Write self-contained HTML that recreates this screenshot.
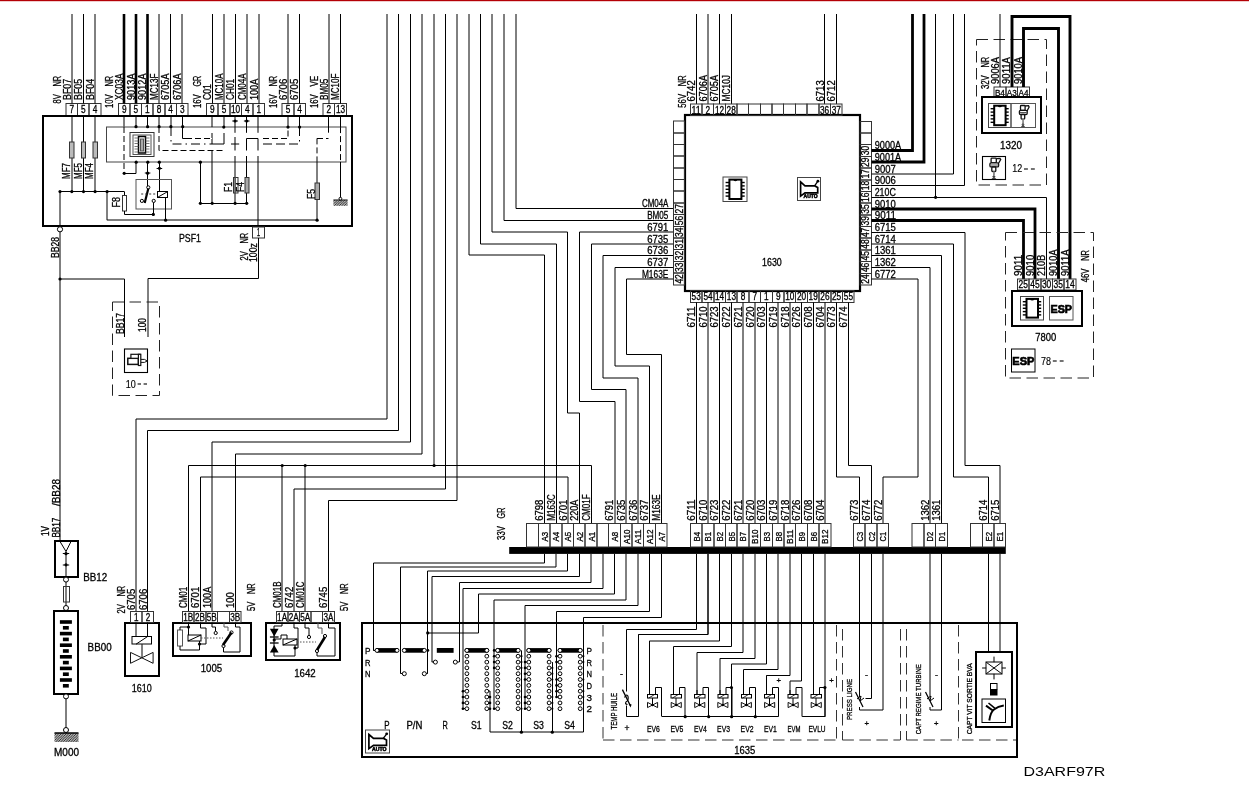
<!DOCTYPE html>
<html><head><meta charset="utf-8"><style>
html,body{margin:0;padding:0;background:#fff;overflow:hidden;width:1249px;height:810px;}
svg{display:block;will-change:transform;}
text{font-family:"Liberation Sans",sans-serif;fill:#000;stroke:#000;stroke-width:0.3px;}
</style></head><body>
<svg width="1249" height="810" viewBox="0 0 1249 810">
<defs><pattern id="hatch" width="2.5" height="2.5" patternUnits="userSpaceOnUse"><path d="M-0.5,0.5 L0.5,-0.5 M0,2.5 L2.5,0 M2,3 L3,2" stroke="#111" stroke-width="1"/></pattern></defs>
<rect width="1249" height="810" fill="#fff"/>
<rect x="0.0" y="0.0" width="1249.0" height="1.2" fill="#b40006"/>
<rect x="66.0" y="103.5" width="11.5" height="12.0" fill="none" stroke="#333" stroke-width="1"/>
<text x="69.5" y="113.2" font-size="10" textLength="4.6" lengthAdjust="spacingAndGlyphs">7</text>
<line x1="72.0" y1="14.0" x2="72.0" y2="103.5" stroke="#000" stroke-width="1"/>
<text transform="translate(70.5,100.0) rotate(-90)" font-size="10.5" textLength="21.2" lengthAdjust="spacingAndGlyphs">BF07</text>
<rect x="77.5" y="103.5" width="11.5" height="12.0" fill="none" stroke="#333" stroke-width="1"/>
<text x="81.1" y="113.2" font-size="10" textLength="4.6" lengthAdjust="spacingAndGlyphs">5</text>
<line x1="83.5" y1="14.0" x2="83.5" y2="103.5" stroke="#000" stroke-width="1"/>
<text transform="translate(82.1,100.0) rotate(-90)" font-size="10.5" textLength="21.2" lengthAdjust="spacingAndGlyphs">BF05</text>
<rect x="89.0" y="103.5" width="12.0" height="12.0" fill="none" stroke="#333" stroke-width="1"/>
<text x="92.7" y="113.2" font-size="10" textLength="4.6" lengthAdjust="spacingAndGlyphs">4</text>
<line x1="95.0" y1="14.0" x2="95.0" y2="103.5" stroke="#000" stroke-width="1"/>
<text transform="translate(93.7,100.0) rotate(-90)" font-size="10.5" textLength="21.2" lengthAdjust="spacingAndGlyphs">BF04</text>
<text transform="translate(60.8,86.6) rotate(-90)" font-size="10.5" textLength="10.8" lengthAdjust="spacingAndGlyphs">NR</text>
<text transform="translate(60.8,103.5) rotate(-90)" font-size="10.5" textLength="9.2" lengthAdjust="spacingAndGlyphs">8V</text>
<rect x="118.5" y="103.5" width="11.5" height="12.0" fill="none" stroke="#333" stroke-width="1"/>
<text x="121.9" y="113.2" font-size="10" textLength="4.6" lengthAdjust="spacingAndGlyphs">9</text>
<line x1="124.0" y1="14.0" x2="124.0" y2="103.5" stroke="#000" stroke-width="2.6"/>
<text transform="translate(122.9,100.0) rotate(-90)" font-size="10.5" textLength="26.5" lengthAdjust="spacingAndGlyphs">XC03A</text>
<rect x="130.0" y="103.5" width="11.5" height="12.0" fill="none" stroke="#333" stroke-width="1"/>
<text x="133.5" y="113.2" font-size="10" textLength="4.6" lengthAdjust="spacingAndGlyphs">5</text>
<line x1="136.0" y1="14.0" x2="136.0" y2="103.5" stroke="#000" stroke-width="2.6"/>
<text transform="translate(134.5,100.0) rotate(-90)" font-size="10.5" textLength="26.5" lengthAdjust="spacingAndGlyphs">9013A</text>
<rect x="141.5" y="103.5" width="11.5" height="12.0" fill="none" stroke="#333" stroke-width="1"/>
<text x="145.1" y="113.2" font-size="10" textLength="4.6" lengthAdjust="spacingAndGlyphs">1</text>
<line x1="147.5" y1="14.0" x2="147.5" y2="103.5" stroke="#000" stroke-width="2.6"/>
<text transform="translate(146.1,100.0) rotate(-90)" font-size="10.5" textLength="26.5" lengthAdjust="spacingAndGlyphs">9012A</text>
<rect x="153.0" y="103.5" width="12.0" height="12.0" fill="none" stroke="#333" stroke-width="1"/>
<text x="156.7" y="113.2" font-size="10" textLength="4.6" lengthAdjust="spacingAndGlyphs">8</text>
<line x1="159.0" y1="14.0" x2="159.0" y2="103.5" stroke="#000" stroke-width="1"/>
<text transform="translate(157.7,100.0) rotate(-90)" font-size="10.5" textLength="26.5" lengthAdjust="spacingAndGlyphs">MC13F</text>
<rect x="165.0" y="103.5" width="11.5" height="12.0" fill="none" stroke="#333" stroke-width="1"/>
<text x="168.3" y="113.2" font-size="10" textLength="4.6" lengthAdjust="spacingAndGlyphs">4</text>
<line x1="170.5" y1="14.0" x2="170.5" y2="103.5" stroke="#000" stroke-width="1"/>
<text transform="translate(169.3,100.0) rotate(-90)" font-size="10.5" textLength="26.5" lengthAdjust="spacingAndGlyphs">6705A</text>
<rect x="176.5" y="103.5" width="11.5" height="12.0" fill="none" stroke="#333" stroke-width="1"/>
<text x="179.9" y="113.2" font-size="10" textLength="4.6" lengthAdjust="spacingAndGlyphs">3</text>
<line x1="182.0" y1="14.0" x2="182.0" y2="103.5" stroke="#000" stroke-width="1"/>
<text transform="translate(180.9,100.0) rotate(-90)" font-size="10.5" textLength="26.5" lengthAdjust="spacingAndGlyphs">6706A</text>
<text transform="translate(113.2,86.6) rotate(-90)" font-size="10.5" textLength="10.8" lengthAdjust="spacingAndGlyphs">NR</text>
<text transform="translate(113.2,108.1) rotate(-90)" font-size="10.5" textLength="13.8" lengthAdjust="spacingAndGlyphs">10V</text>
<rect x="206.5" y="103.5" width="11.5" height="12.0" fill="none" stroke="#333" stroke-width="1"/>
<text x="210.1" y="113.2" font-size="10" textLength="4.6" lengthAdjust="spacingAndGlyphs">9</text>
<line x1="212.5" y1="14.0" x2="212.5" y2="103.5" stroke="#000" stroke-width="1"/>
<text transform="translate(211.1,100.0) rotate(-90)" font-size="10.5" textLength="15.9" lengthAdjust="spacingAndGlyphs">C01</text>
<rect x="218.0" y="103.5" width="12.0" height="12.0" fill="none" stroke="#333" stroke-width="1"/>
<text x="221.7" y="113.2" font-size="10" textLength="4.6" lengthAdjust="spacingAndGlyphs">5</text>
<line x1="224.0" y1="14.0" x2="224.0" y2="103.5" stroke="#000" stroke-width="1"/>
<text transform="translate(222.7,100.0) rotate(-90)" font-size="10.5" textLength="26.5" lengthAdjust="spacingAndGlyphs">MC10A</text>
<rect x="230.0" y="103.5" width="11.5" height="12.0" fill="none" stroke="#333" stroke-width="1"/>
<text x="231.0" y="113.2" font-size="10" textLength="9.2" lengthAdjust="spacingAndGlyphs">10</text>
<line x1="235.5" y1="14.0" x2="235.5" y2="103.5" stroke="#000" stroke-width="1"/>
<text transform="translate(234.3,100.0) rotate(-90)" font-size="10.5" textLength="21.2" lengthAdjust="spacingAndGlyphs">CH01</text>
<rect x="241.5" y="103.5" width="11.5" height="12.0" fill="none" stroke="#333" stroke-width="1"/>
<text x="244.9" y="113.2" font-size="10" textLength="4.6" lengthAdjust="spacingAndGlyphs">4</text>
<line x1="247.0" y1="14.0" x2="247.0" y2="103.5" stroke="#000" stroke-width="1"/>
<text transform="translate(245.9,100.0) rotate(-90)" font-size="10.5" textLength="26.5" lengthAdjust="spacingAndGlyphs">CM04A</text>
<rect x="253.0" y="103.5" width="11.5" height="12.0" fill="none" stroke="#333" stroke-width="1"/>
<text x="256.5" y="113.2" font-size="10" textLength="4.6" lengthAdjust="spacingAndGlyphs">1</text>
<line x1="259.0" y1="14.0" x2="259.0" y2="103.5" stroke="#000" stroke-width="1"/>
<text transform="translate(257.5,100.0) rotate(-90)" font-size="10.5" textLength="21.2" lengthAdjust="spacingAndGlyphs">100A</text>
<text transform="translate(201.4,86.6) rotate(-90)" font-size="10.5" textLength="10.8" lengthAdjust="spacingAndGlyphs">GR</text>
<text transform="translate(201.4,108.1) rotate(-90)" font-size="10.5" textLength="13.8" lengthAdjust="spacingAndGlyphs">16V</text>
<rect x="282.0" y="103.5" width="12.0" height="12.0" fill="none" stroke="#333" stroke-width="1"/>
<text x="285.7" y="113.2" font-size="10" textLength="4.6" lengthAdjust="spacingAndGlyphs">5</text>
<line x1="288.0" y1="14.0" x2="288.0" y2="103.5" stroke="#000" stroke-width="1"/>
<text transform="translate(286.7,100.0) rotate(-90)" font-size="10.5" textLength="21.2" lengthAdjust="spacingAndGlyphs">6706</text>
<rect x="294.0" y="103.5" width="11.5" height="12.0" fill="none" stroke="#333" stroke-width="1"/>
<text x="297.3" y="113.2" font-size="10" textLength="4.6" lengthAdjust="spacingAndGlyphs">4</text>
<line x1="299.5" y1="14.0" x2="299.5" y2="103.5" stroke="#000" stroke-width="1"/>
<text transform="translate(298.3,100.0) rotate(-90)" font-size="10.5" textLength="21.2" lengthAdjust="spacingAndGlyphs">6705</text>
<text transform="translate(277.0,86.6) rotate(-90)" font-size="10.5" textLength="10.8" lengthAdjust="spacingAndGlyphs">NR</text>
<text transform="translate(277.0,108.1) rotate(-90)" font-size="10.5" textLength="13.8" lengthAdjust="spacingAndGlyphs">16V</text>
<rect x="323.0" y="103.5" width="11.5" height="12.0" fill="none" stroke="#333" stroke-width="1"/>
<text x="326.6" y="113.2" font-size="10" textLength="4.6" lengthAdjust="spacingAndGlyphs">2</text>
<line x1="329.0" y1="14.0" x2="329.0" y2="103.5" stroke="#000" stroke-width="1"/>
<text transform="translate(327.6,100.0) rotate(-90)" font-size="10.5" textLength="21.2" lengthAdjust="spacingAndGlyphs">BM05</text>
<rect x="334.5" y="103.5" width="12.0" height="12.0" fill="none" stroke="#333" stroke-width="1"/>
<text x="335.9" y="113.2" font-size="10" textLength="9.2" lengthAdjust="spacingAndGlyphs">13</text>
<line x1="340.5" y1="14.0" x2="340.5" y2="103.5" stroke="#000" stroke-width="1"/>
<text transform="translate(339.2,100.0) rotate(-90)" font-size="10.5" textLength="26.5" lengthAdjust="spacingAndGlyphs">MC10F</text>
<text transform="translate(317.9,86.6) rotate(-90)" font-size="10.5" textLength="10.8" lengthAdjust="spacingAndGlyphs">VE</text>
<text transform="translate(317.9,108.1) rotate(-90)" font-size="10.5" textLength="13.8" lengthAdjust="spacingAndGlyphs">16V</text>
<rect x="43.0" y="116.0" width="309.0" height="110.0" fill="none" stroke="#000" stroke-width="2"/>
<rect x="106.5" y="127.0" width="239.5" height="35.0" fill="none" stroke="#444" stroke-width="1"/>
<line x1="72.0" y1="115.6" x2="72.0" y2="191.6" stroke="#000" stroke-width="1"/>
<rect x="69.5" y="142.0" width="4.5" height="16.0" fill="#bbb" stroke="#333" stroke-width="1"/>
<text transform="translate(70.0,179.0) rotate(-90)" font-size="10.5" textLength="16.0" lengthAdjust="spacingAndGlyphs">MF7</text>
<circle cx="71.8" cy="191.6" r="1.6" fill="#000"/>
<line x1="83.5" y1="115.6" x2="83.5" y2="191.6" stroke="#000" stroke-width="1"/>
<rect x="81.5" y="142.0" width="4.0" height="16.0" fill="#bbb" stroke="#333" stroke-width="1"/>
<text transform="translate(81.7,179.0) rotate(-90)" font-size="10.5" textLength="16.0" lengthAdjust="spacingAndGlyphs">MF5</text>
<circle cx="83.5" cy="191.6" r="1.6" fill="#000"/>
<line x1="95.0" y1="115.6" x2="95.0" y2="191.6" stroke="#000" stroke-width="1"/>
<rect x="93.0" y="142.0" width="4.5" height="16.0" fill="#bbb" stroke="#333" stroke-width="1"/>
<text transform="translate(93.3,179.0) rotate(-90)" font-size="10.5" textLength="16.0" lengthAdjust="spacingAndGlyphs">MF4</text>
<circle cx="95.1" cy="191.6" r="1.6" fill="#000"/>
<line x1="60.0" y1="191.5" x2="124.4" y2="191.5" stroke="#000" stroke-width="1"/>
<circle cx="107.1" cy="191.6" r="1.6" fill="#000"/>
<line x1="107.0" y1="191.6" x2="107.0" y2="220.2" stroke="#000" stroke-width="1"/>
<line x1="107.1" y1="220.0" x2="317.6" y2="220.0" stroke="#000" stroke-width="1"/>
<line x1="124.5" y1="191.6" x2="124.5" y2="195.6" stroke="#000" stroke-width="1"/>
<rect x="122.5" y="195.5" width="4.0" height="15.5" fill="none" stroke="#333" stroke-width="1"/>
<polyline points="124.5,211.0 124.5,214.5 153.5,214.5 153.5,205.0" fill="none" stroke="#000" stroke-width="1"/>
<circle cx="153.3" cy="214.4" r="1.6" fill="#000"/>
<text transform="translate(119.5,207.5) rotate(-90)" font-size="10.5" textLength="10.5" lengthAdjust="spacingAndGlyphs">F8</text>
<line x1="124.0" y1="115.6" x2="124.0" y2="126.7" stroke="#000" stroke-width="1"/>
<polyline points="124.0,173.5 136.0,173.5 136.0,162.0" fill="none" stroke="#000" stroke-width="1"/>
<circle cx="124.2" cy="173.3" r="1.6" fill="#000"/>
<line x1="136.0" y1="115.6" x2="136.0" y2="126.7" stroke="#000" stroke-width="1"/>
<circle cx="136.0" cy="126.7" r="1.6" fill="#000"/>
<line x1="147.5" y1="115.6" x2="147.5" y2="126.7" stroke="#000" stroke-width="1"/>
<circle cx="147.6" cy="126.7" r="1.6" fill="#000"/>
<line x1="159.0" y1="115.6" x2="159.0" y2="126.7" stroke="#000" stroke-width="1"/>
<circle cx="159.1" cy="126.7" r="1.6" fill="#000"/>
<line x1="171.0" y1="115.6" x2="171.0" y2="126.7" stroke="#000" stroke-width="1"/>
<circle cx="170.9" cy="126.7" r="1.6" fill="#000"/>
<line x1="182.5" y1="115.6" x2="182.5" y2="126.7" stroke="#000" stroke-width="1"/>
<circle cx="182.7" cy="126.7" r="1.6" fill="#000"/>
<rect x="130.0" y="132.5" width="24.0" height="24.0" fill="none" stroke="#333" stroke-width="1"/>
<rect x="133.0" y="135.0" width="18.0" height="19.5" fill="none" stroke="#555" stroke-width="1"/>
<rect x="138.5" y="136.5" width="7.0" height="16.5" fill="none" stroke="#000" stroke-width="1.5"/>
<rect x="140.5" y="139.0" width="3.0" height="12.0" fill="#aaa" stroke="#555" stroke-width="1"/>
<line x1="134.5" y1="138.0" x2="138.5" y2="138.0" stroke="#555" stroke-width="0.8"/>
<line x1="145.5" y1="138.0" x2="149.5" y2="138.0" stroke="#555" stroke-width="0.8"/>
<line x1="134.5" y1="141.0" x2="138.5" y2="141.0" stroke="#555" stroke-width="0.8"/>
<line x1="145.5" y1="141.0" x2="149.5" y2="141.0" stroke="#555" stroke-width="0.8"/>
<line x1="134.5" y1="143.5" x2="138.5" y2="143.5" stroke="#555" stroke-width="0.8"/>
<line x1="145.5" y1="143.5" x2="149.5" y2="143.5" stroke="#555" stroke-width="0.8"/>
<line x1="134.5" y1="146.5" x2="138.5" y2="146.5" stroke="#555" stroke-width="0.8"/>
<line x1="145.5" y1="146.5" x2="149.5" y2="146.5" stroke="#555" stroke-width="0.8"/>
<line x1="134.5" y1="149.0" x2="138.5" y2="149.0" stroke="#555" stroke-width="0.8"/>
<line x1="145.5" y1="149.0" x2="149.5" y2="149.0" stroke="#555" stroke-width="0.8"/>
<line x1="134.5" y1="152.0" x2="138.5" y2="152.0" stroke="#555" stroke-width="0.8"/>
<line x1="145.5" y1="152.0" x2="149.5" y2="152.0" stroke="#555" stroke-width="0.8"/>
<circle cx="136.2" cy="162.2" r="1.6" fill="#000"/>
<circle cx="147.8" cy="162.2" r="1.6" fill="#000"/>
<circle cx="159.3" cy="162.2" r="1.6" fill="#000"/>
<circle cx="200.4" cy="162.2" r="1.6" fill="#000"/>
<line x1="147.5" y1="162.2" x2="147.5" y2="187.4" stroke="#000" stroke-width="1"/>
<circle cx="147.6" cy="173.2" r="1.6" fill="#000"/>
<line x1="144.8" y1="173.0" x2="150.4" y2="173.0" stroke="#000" stroke-width="1"/>
<line x1="159.5" y1="162.2" x2="159.5" y2="191.7" stroke="#000" stroke-width="1"/>
<line x1="156.6" y1="168.5" x2="162.2" y2="168.5" stroke="#000" stroke-width="1"/>
<circle cx="159.4" cy="168.3" r="1.6" fill="#000"/>
<rect x="136.0" y="179.5" width="35.5" height="29.5" fill="none" stroke="#555" stroke-width="1"/>
<circle cx="148.3" cy="187.4" r="1.6" fill="#fff" stroke="#000" stroke-width="1"/>
<circle cx="141.9" cy="200.9" r="1.6" fill="#fff" stroke="#000" stroke-width="1"/>
<circle cx="153.7" cy="200.9" r="1.6" fill="#fff" stroke="#000" stroke-width="1"/>
<line x1="144.7" y1="203.1" x2="148.3" y2="188.5" stroke="#000" stroke-width="2.2"/>
<line x1="141.2" y1="194.0" x2="157.0" y2="194.0" stroke="#333" stroke-width="1" stroke-dasharray="2,2"/>
<rect x="157.5" y="191.5" width="10.0" height="6.0" fill="none" stroke="#000" stroke-width="1"/>
<line x1="157.5" y1="197.4" x2="167.5" y2="191.7" stroke="#000" stroke-width="1"/>
<line x1="165.5" y1="197.4" x2="165.5" y2="220.2" stroke="#000" stroke-width="1"/>
<circle cx="165.6" cy="220.2" r="1.6" fill="#000"/>
<line x1="153.5" y1="202.5" x2="153.5" y2="214.4" stroke="#000" stroke-width="1"/>
<line x1="212.0" y1="115.6" x2="212.0" y2="127.1" stroke="#000" stroke-width="1"/>
<line x1="212.0" y1="150.5" x2="212.0" y2="203.3" stroke="#000" stroke-width="1"/>
<circle cx="212.2" cy="203.3" r="1.6" fill="#000"/>
<line x1="200.5" y1="162.2" x2="200.5" y2="203.3" stroke="#000" stroke-width="1"/>
<circle cx="200.4" cy="203.3" r="1.6" fill="#000"/>
<line x1="200.4" y1="203.5" x2="246.7" y2="203.5" stroke="#000" stroke-width="1"/>
<line x1="224.0" y1="115.6" x2="224.0" y2="127.1" stroke="#000" stroke-width="1"/>
<circle cx="223.8" cy="127.1" r="1.6" fill="#000"/>
<line x1="235.0" y1="115.6" x2="235.0" y2="132.8" stroke="#000" stroke-width="1"/>
<line x1="235.0" y1="156.0" x2="235.0" y2="203.3" stroke="#000" stroke-width="1"/>
<circle cx="235.1" cy="203.3" r="1.6" fill="#000"/>
<line x1="232.3" y1="121.0" x2="237.9" y2="121.0" stroke="#000" stroke-width="1"/>
<circle cx="235.1" cy="121.0" r="1.6" fill="#000"/>
<line x1="246.5" y1="115.6" x2="246.5" y2="132.8" stroke="#000" stroke-width="1"/>
<line x1="246.5" y1="156.0" x2="246.5" y2="203.3" stroke="#000" stroke-width="1"/>
<circle cx="246.7" cy="203.3" r="1.6" fill="#000"/>
<line x1="243.9" y1="121.0" x2="249.5" y2="121.0" stroke="#000" stroke-width="1"/>
<circle cx="246.7" cy="121.0" r="1.6" fill="#000"/>
<line x1="235.0" y1="137.0" x2="235.0" y2="150.5" stroke="#000" stroke-width="1"/>
<line x1="231.0" y1="144.0" x2="239.2" y2="144.0" stroke="#000" stroke-width="1"/>
<polyline points="246.5,150.5 246.5,138.5 258.0,138.5 258.0,150.5" fill="none" stroke="#000" stroke-width="1"/>
<polyline points="212.0,133.0 212.0,144.0 224.0,144.0 224.0,133.0" fill="none" stroke="#000" stroke-width="1"/>
<rect x="233.5" y="177.5" width="4.5" height="15.5" fill="none" stroke="#333" stroke-width="1"/>
<line x1="235.5" y1="177.5" x2="235.5" y2="193.1" stroke="#555" stroke-width="0.8"/>
<rect x="245.0" y="177.5" width="4.0" height="15.5" fill="#aaa" stroke="#333" stroke-width="1"/>
<text transform="translate(232.4,192.0) rotate(-90)" font-size="10.5" textLength="10.0" lengthAdjust="spacingAndGlyphs">F1</text>
<text transform="translate(244.4,192.0) rotate(-90)" font-size="10.5" textLength="10.0" lengthAdjust="spacingAndGlyphs">F4</text>
<line x1="258.0" y1="115.6" x2="258.0" y2="132.8" stroke="#000" stroke-width="1"/>
<line x1="258.0" y1="156.0" x2="258.0" y2="227.0" stroke="#000" stroke-width="1"/>
<line x1="288.0" y1="115.6" x2="288.0" y2="127.1" stroke="#000" stroke-width="1"/>
<circle cx="288.0" cy="127.1" r="1.6" fill="#000"/>
<line x1="299.5" y1="115.6" x2="299.5" y2="127.1" stroke="#000" stroke-width="1"/>
<circle cx="299.6" cy="127.1" r="1.6" fill="#000"/>
<line x1="328.5" y1="115.6" x2="328.5" y2="132.7" stroke="#000" stroke-width="1"/>
<line x1="340.5" y1="115.6" x2="340.5" y2="127.1" stroke="#000" stroke-width="1"/>
<line x1="340.5" y1="127.1" x2="340.5" y2="161.9" stroke="#000" stroke-width="1" stroke-dasharray="6,3"/>
<line x1="340.5" y1="161.9" x2="340.5" y2="198.7" stroke="#000" stroke-width="1"/>
<rect x="333.4" y="200.2" width="14.2" height="5.6" fill="url(#hatch)"/>
<line x1="333.4" y1="200.0" x2="347.6" y2="200.0" stroke="#000" stroke-width="1"/>
<circle cx="340.4" cy="198.7" r="1.4" fill="#fff" stroke="#000" stroke-width="1"/>
<line x1="317.0" y1="138.4" x2="317.0" y2="161.9" stroke="#000" stroke-width="1" stroke-dasharray="6,3"/>
<line x1="317.0" y1="161.9" x2="317.0" y2="220.2" stroke="#000" stroke-width="1"/>
<circle cx="317.1" cy="220.2" r="1.6" fill="#000"/>
<rect x="315.0" y="183.0" width="4.5" height="16.5" fill="#aaa" stroke="#333" stroke-width="1"/>
<text transform="translate(314.5,199.0) rotate(-90)" font-size="10.5" textLength="10.0" lengthAdjust="spacingAndGlyphs">F5</text>
<polyline points="124.0,127.0 124.0,173.5" fill="none" stroke="#000" stroke-width="1" stroke-dasharray="6,3"/>
<polyline points="159.0,127.0 159.0,150.5 224.0,150.5" fill="none" stroke="#000" stroke-width="1" stroke-dasharray="6,3"/>
<polyline points="171.0,127.0 171.0,144.0 212.0,144.0" fill="none" stroke="#000" stroke-width="1" stroke-dasharray="9,4,1.5,4"/>
<polyline points="263.0,144.0 299.5,144.0" fill="none" stroke="#000" stroke-width="1" stroke-dasharray="9,4"/>
<polyline points="299.5,127.0 299.5,144.0" fill="none" stroke="#000" stroke-width="1" stroke-dasharray="9,4,1.5,4"/>
<polyline points="182.5,127.0 182.5,138.5 212.0,138.5" fill="none" stroke="#000" stroke-width="1"/>
<line x1="190.0" y1="138.5" x2="212.0" y2="138.5" stroke="#fff" stroke-width="1"/>
<polyline points="186.0,138.5 212.0,138.5" fill="none" stroke="#000" stroke-width="1" stroke-dasharray="6,3"/>
<polyline points="263.0,138.5 288.0,138.5 288.0,127.0" fill="none" stroke="#000" stroke-width="1" stroke-dasharray="6,3"/>
<polyline points="317.0,138.5 328.5,138.5" fill="none" stroke="#000" stroke-width="1" stroke-dasharray="6,3"/>
<rect x="252.5" y="227.0" width="12.0" height="11.0" fill="none" stroke="#333" stroke-width="1"/>
<text x="256.9" y="236.0" font-size="10" textLength="3.0" lengthAdjust="spacingAndGlyphs">1</text>
<text x="179.0" y="242.0" font-size="11" textLength="22.0" lengthAdjust="spacingAndGlyphs">PSF1</text>
<text transform="translate(247.5,243.6) rotate(-90)" font-size="10.5" textLength="10.8" lengthAdjust="spacingAndGlyphs">NR</text>
<text transform="translate(247.5,260.5) rotate(-90)" font-size="10.5" textLength="9.2" lengthAdjust="spacingAndGlyphs">2V</text>
<text transform="translate(256.6,262.0) rotate(-90)" font-size="10.5" textLength="19.0" lengthAdjust="spacingAndGlyphs">100z</text>
<line x1="60.0" y1="191.6" x2="60.0" y2="541.3" stroke="#000" stroke-width="1"/>
<circle cx="60.0" cy="229.3" r="2.6" fill="#fff" stroke="#000" stroke-width="1"/>
<circle cx="60.0" cy="191.6" r="1.6" fill="#000"/>
<text transform="translate(58.6,258.0) rotate(-90)" font-size="10.5" textLength="21.0" lengthAdjust="spacingAndGlyphs">BB28</text>
<circle cx="60.0" cy="279.0" r="1.6" fill="#000"/>
<polyline points="60.0,279.0 124.5,279.0 124.5,337.0" fill="none" stroke="#000" stroke-width="1"/>
<polyline points="258.5,238.0 258.5,278.5 148.0,278.5 148.0,337.0" fill="none" stroke="#000" stroke-width="1"/>
<rect x="112.5" y="302.0" width="47.0" height="93.5" fill="none" stroke="#222" stroke-width="1" stroke-dasharray="11.5,5.5"/>
<text transform="translate(123.5,334.0) rotate(-90)" font-size="10.5" textLength="21.0" lengthAdjust="spacingAndGlyphs">BB17</text>
<text transform="translate(146.2,332.0) rotate(-90)" font-size="10.5" textLength="14.0" lengthAdjust="spacingAndGlyphs">100</text>
<rect x="124.5" y="349.0" width="23.0" height="23.5" fill="none" stroke="#000" stroke-width="1.1"/>
<text x="125.8" y="387.6" font-size="10" textLength="10.0" lengthAdjust="spacingAndGlyphs" style="stroke-width:0.15px">10</text>
<line x1="137.6" y1="384.0" x2="141.0" y2="384.0" stroke="#000" stroke-width="1.1"/>
<line x1="143.6" y1="384.0" x2="147.0" y2="384.0" stroke="#000" stroke-width="1.1"/>
<rect x="127.8" y="358.3" width="10.6" height="6.1" fill="#fff" stroke="#111" stroke-width="1.5"/>
<rect x="130.9" y="354.3" width="9.2" height="4" fill="#fff" stroke="#111" stroke-width="1.2"/>
<rect x="138.4" y="354.3" width="2.4" height="11.2" fill="#fff" stroke="#111" stroke-width="1.2"/>
<path d="M140.8,359.4 L144.5,359.4 L147.2,361 L144.5,362.4 L140.8,362.4" fill="none" stroke="#111" stroke-width="1"/>
<rect x="55.0" y="541.0" width="23.0" height="36.0" fill="none" stroke="#000" stroke-width="2"/>
<polyline points="60.0,541.5 66.0,551.5 71.0,541.5" fill="none" stroke="#000" stroke-width="1"/>
<line x1="66.0" y1="551.5" x2="66.0" y2="576.5" stroke="#000" stroke-width="1"/>
<line x1="62.8" y1="553.5" x2="69.2" y2="553.5" stroke="#000" stroke-width="1"/>
<circle cx="66.0" cy="553.7" r="1.6" fill="#000"/>
<line x1="62.8" y1="565.0" x2="69.2" y2="565.0" stroke="#000" stroke-width="1"/>
<circle cx="66.0" cy="564.8" r="1.6" fill="#000"/>
<text transform="translate(49.0,536.0) rotate(-90)" font-size="10.5" textLength="10.0" lengthAdjust="spacingAndGlyphs">1V</text>
<text transform="translate(60.0,537.6) rotate(-90)" font-size="10.5" textLength="20.0" lengthAdjust="spacingAndGlyphs">BB17</text>
<text transform="translate(60.0,506.0) rotate(-90)" font-size="10.5" textLength="27.0" lengthAdjust="spacingAndGlyphs">/BB28</text>
<text x="83.2" y="581.0" font-size="10.5" textLength="24.0" lengthAdjust="spacingAndGlyphs">BB12</text>
<line x1="66.0" y1="576.5" x2="66.0" y2="611.0" stroke="#000" stroke-width="1"/>
<circle cx="66.0" cy="579.6" r="2.5" fill="#fff" stroke="#000" stroke-width="1"/>
<rect x="63.5" y="586.5" width="6.0" height="15.5" fill="none" stroke="#333" stroke-width="1"/>
<circle cx="66.0" cy="608.0" r="2.5" fill="#fff" stroke="#000" stroke-width="1"/>
<rect x="54.0" y="611.0" width="24.0" height="83.0" fill="none" stroke="#000" stroke-width="2"/>
<rect x="59.9" y="620.2" width="12.0" height="3.6" fill="#000"/>
<rect x="62.9" y="626.0" width="5.9" height="3.6" fill="#000"/>
<rect x="59.9" y="631.8" width="12.0" height="3.6" fill="#000"/>
<rect x="62.9" y="637.6" width="5.9" height="3.6" fill="#000"/>
<rect x="59.9" y="643.4" width="12.0" height="3.6" fill="#000"/>
<rect x="62.9" y="649.2" width="5.9" height="3.6" fill="#000"/>
<rect x="59.9" y="655.0" width="12.0" height="3.6" fill="#000"/>
<rect x="62.9" y="660.8" width="5.9" height="3.6" fill="#000"/>
<rect x="59.9" y="666.6" width="12.0" height="3.6" fill="#000"/>
<rect x="62.9" y="672.4" width="5.9" height="3.6" fill="#000"/>
<rect x="59.9" y="678.2" width="12.0" height="3.6" fill="#000"/>
<rect x="62.9" y="684.0" width="5.9" height="3.6" fill="#000"/>
<text x="87.6" y="651.0" font-size="10.5" textLength="24.0" lengthAdjust="spacingAndGlyphs">BB00</text>
<line x1="66.0" y1="693.7" x2="66.0" y2="731.0" stroke="#000" stroke-width="1"/>
<circle cx="66.0" cy="696.4" r="2.5" fill="#fff" stroke="#000" stroke-width="1"/>
<circle cx="66.0" cy="730.0" r="2.5" fill="#fff" stroke="#000" stroke-width="1"/>
<rect x="54.5" y="733" width="24" height="9" fill="url(#hatch)"/>
<line x1="54.5" y1="733.0" x2="78.5" y2="733.0" stroke="#000" stroke-width="1.5"/>
<text x="54.0" y="756.0" font-size="10.5" textLength="25.0" lengthAdjust="spacingAndGlyphs">M000</text>
<polyline points="387.0,14.0 387.0,419.0 136.0,419.0 136.0,611.5" fill="none" stroke="#000" stroke-width="1"/>
<polyline points="398.5,14.0 398.5,430.5 147.5,430.5 147.5,611.5" fill="none" stroke="#000" stroke-width="1"/>
<polyline points="410.5,14.0 410.5,442.0 212.0,442.0 212.0,611.5" fill="none" stroke="#000" stroke-width="1"/>
<polyline points="422.0,14.0 422.0,454.0 235.5,454.0 235.5,611.5" fill="none" stroke="#000" stroke-width="1"/>
<line x1="434.0" y1="14.0" x2="434.0" y2="465.5" stroke="#000" stroke-width="1"/>
<circle cx="434.1" cy="465.5" r="1.6" fill="#000"/>
<polyline points="591.5,523.5 591.5,465.5 188.5,465.5 188.5,611.5" fill="none" stroke="#000" stroke-width="1"/>
<circle cx="282.2" cy="465.5" r="1.6" fill="#000"/>
<line x1="282.0" y1="465.5" x2="282.0" y2="611.5" stroke="#000" stroke-width="1"/>
<circle cx="305.2" cy="465.5" r="1.6" fill="#000"/>
<line x1="305.0" y1="465.5" x2="305.0" y2="611.5" stroke="#000" stroke-width="1"/>
<polyline points="445.5,14.0 445.5,489.0 294.0,489.0 294.0,611.5" fill="none" stroke="#000" stroke-width="1"/>
<polyline points="457.0,14.0 457.0,500.5 328.5,500.5 328.5,611.5" fill="none" stroke="#000" stroke-width="1"/>
<polyline points="568.0,523.5 568.0,477.0 200.5,477.0 200.5,611.5" fill="none" stroke="#000" stroke-width="1"/>
<polyline points="469.0,14.0 469.0,255.0 544.5,255.0 544.5,523.5" fill="none" stroke="#000" stroke-width="1"/>
<polyline points="480.5,14.0 480.5,244.0 556.5,244.0 556.5,523.5" fill="none" stroke="#000" stroke-width="1"/>
<polyline points="492.0,14.0 492.0,232.0 567.5,232.0 567.5,413.0 579.5,413.0 579.5,523.5" fill="none" stroke="#000" stroke-width="1"/>
<polyline points="504.0,14.0 504.0,220.5 673.5,220.5" fill="none" stroke="#000" stroke-width="1"/>
<polyline points="516.0,14.0 516.0,208.5 673.5,208.5" fill="none" stroke="#000" stroke-width="1"/>
<polyline points="673.5,232.0 579.5,232.0 579.5,401.5 615.0,401.5 615.0,523.5" fill="none" stroke="#000" stroke-width="1"/>
<polyline points="673.5,244.0 591.5,244.0 591.5,389.5 626.0,389.5 626.0,523.5" fill="none" stroke="#000" stroke-width="1"/>
<polyline points="673.5,255.5 603.0,255.5 603.0,378.0 638.0,378.0 638.0,523.5" fill="none" stroke="#000" stroke-width="1"/>
<polyline points="673.5,267.5 615.0,267.5 615.0,366.0 649.5,366.0 649.5,523.5" fill="none" stroke="#000" stroke-width="1"/>
<polyline points="673.5,279.0 626.5,279.0 626.5,354.5 661.5,354.5 661.5,523.5" fill="none" stroke="#000" stroke-width="1"/>
<rect x="173.0" y="623.0" width="78.0" height="33.0" fill="none" stroke="#000" stroke-width="2"/>
<rect x="182.5" y="611.5" width="11.5" height="11.0" fill="none" stroke="#333" stroke-width="1"/>
<text x="183.3" y="620.5" font-size="10" textLength="10.0" lengthAdjust="spacingAndGlyphs">1B</text>
<rect x="194.0" y="611.5" width="12.0" height="11.0" fill="none" stroke="#333" stroke-width="1"/>
<text x="195.0" y="620.5" font-size="10" textLength="10.0" lengthAdjust="spacingAndGlyphs">2B</text>
<rect x="206.0" y="611.5" width="11.5" height="11.0" fill="none" stroke="#333" stroke-width="1"/>
<text x="206.8" y="620.5" font-size="10" textLength="10.0" lengthAdjust="spacingAndGlyphs">5B</text>
<rect x="217.5" y="611.5" width="12.0" height="11.0" fill="none" stroke="#333" stroke-width="1"/>
<rect x="229.5" y="611.5" width="11.5" height="11.0" fill="none" stroke="#333" stroke-width="1"/>
<text x="230.2" y="620.5" font-size="10" textLength="10.0" lengthAdjust="spacingAndGlyphs">3B</text>
<text transform="translate(187.3,608.0) rotate(-90)" font-size="10.5" textLength="21.2" lengthAdjust="spacingAndGlyphs">CM01</text>
<text transform="translate(199.3,608.0) rotate(-90)" font-size="10.5" textLength="21.2" lengthAdjust="spacingAndGlyphs">6701</text>
<text transform="translate(210.6,608.0) rotate(-90)" font-size="10.5" textLength="21.2" lengthAdjust="spacingAndGlyphs">100A</text>
<text transform="translate(234.3,608.0) rotate(-90)" font-size="10.5" textLength="15.9" lengthAdjust="spacingAndGlyphs">100</text>
<text transform="translate(254.8,594.1) rotate(-90)" font-size="10.5" textLength="10.8" lengthAdjust="spacingAndGlyphs">NR</text>
<text transform="translate(254.8,611.0) rotate(-90)" font-size="10.5" textLength="9.2" lengthAdjust="spacingAndGlyphs">5V</text>
<text x="200.7" y="672.0" font-size="11" textLength="21.5" lengthAdjust="spacingAndGlyphs">1005</text>
<polyline points="188.5,622.5 188.5,627.0" fill="none" stroke="#000" stroke-width="1"/>
<circle cx="188.5" cy="627.0" r="1.6" fill="#000"/>
<rect x="177.5" y="630.0" width="5.0" height="16.0" fill="none" stroke="#555" stroke-width="1"/>
<polyline points="180.0,630.0 180.0,627.0 188.5,627.0 188.5,635.0" fill="none" stroke="#000" stroke-width="1"/>
<rect x="188.0" y="635.0" width="13.0" height="6.0" fill="none" stroke="#000" stroke-width="1"/>
<line x1="188.0" y1="641.0" x2="201.0" y2="635.0" stroke="#000" stroke-width="1"/>
<polyline points="200.5,622.5 200.5,628.0 206.0,628.0 206.0,644.0 199.5,644.0" fill="none" stroke="#000" stroke-width="1"/>
<circle cx="199.5" cy="644.0" r="1.6" fill="#000"/>
<polyline points="199.5,641.0 199.5,650.0 180.0,650.0 180.0,646.0" fill="none" stroke="#000" stroke-width="1"/>
<line x1="201.0" y1="638.0" x2="223.0" y2="638.0" stroke="#555" stroke-width="1" stroke-dasharray="1.5,1.5"/>
<polyline points="212.0,622.5 212.0,627.0 215.5,627.0 215.5,631.0" fill="none" stroke="#000" stroke-width="1"/>
<circle cx="215.7" cy="633.0" r="1.6" fill="#fff" stroke="#000" stroke-width="1"/>
<polyline points="235.5,622.5 235.5,627.0 240.0,627.0 240.0,652.0 223.5,652.0 223.5,647.0" fill="none" stroke="#000" stroke-width="1"/>
<circle cx="223.5" cy="646.0" r="1.6" fill="#fff" stroke="#000" stroke-width="1"/>
<circle cx="231.5" cy="632.5" r="1.6" fill="#fff" stroke="#000" stroke-width="1"/>
<line x1="223.0" y1="645.0" x2="231.5" y2="632.5" stroke="#000" stroke-width="2.6"/>
<polyline points="224.0,622.5 224.0,627.0 228.0,627.0 228.0,631.0" fill="none" stroke="#555" stroke-width="1"/>
<rect x="266.0" y="623.0" width="74.0" height="37.0" fill="none" stroke="#000" stroke-width="2"/>
<rect x="276.5" y="611.5" width="11.5" height="11.0" fill="none" stroke="#333" stroke-width="1"/>
<text x="277.1" y="620.5" font-size="10" textLength="10.0" lengthAdjust="spacingAndGlyphs">1A</text>
<rect x="288.0" y="611.5" width="11.5" height="11.0" fill="none" stroke="#333" stroke-width="1"/>
<text x="288.7" y="620.5" font-size="10" textLength="10.0" lengthAdjust="spacingAndGlyphs">2A</text>
<rect x="299.5" y="611.5" width="11.5" height="11.0" fill="none" stroke="#333" stroke-width="1"/>
<text x="300.3" y="620.5" font-size="10" textLength="10.0" lengthAdjust="spacingAndGlyphs">5A</text>
<rect x="311.0" y="611.5" width="11.5" height="11.0" fill="none" stroke="#333" stroke-width="1"/>
<rect x="322.5" y="611.5" width="12.0" height="11.0" fill="none" stroke="#333" stroke-width="1"/>
<text x="323.5" y="620.5" font-size="10" textLength="10.0" lengthAdjust="spacingAndGlyphs">3A</text>
<text transform="translate(281.0,608.0) rotate(-90)" font-size="10.5" textLength="26.5" lengthAdjust="spacingAndGlyphs">CM01B</text>
<text transform="translate(292.6,608.0) rotate(-90)" font-size="10.5" textLength="21.2" lengthAdjust="spacingAndGlyphs">6742</text>
<text transform="translate(304.0,608.0) rotate(-90)" font-size="10.5" textLength="26.5" lengthAdjust="spacingAndGlyphs">CM01C</text>
<text transform="translate(327.3,608.0) rotate(-90)" font-size="10.5" textLength="21.2" lengthAdjust="spacingAndGlyphs">6745</text>
<text transform="translate(348.2,594.1) rotate(-90)" font-size="10.5" textLength="10.8" lengthAdjust="spacingAndGlyphs">NR</text>
<text transform="translate(348.2,611.0) rotate(-90)" font-size="10.5" textLength="9.2" lengthAdjust="spacingAndGlyphs">5V</text>
<text x="294.2" y="677.0" font-size="11" textLength="21.5" lengthAdjust="spacingAndGlyphs">1642</text>
<path d="M269.9,628.8 L278.6,628.8 L274.2,636.5 Z" fill="#000"/>
<path d="M269.9,652.6 L278.6,652.6 L274.2,645 Z" fill="#000"/>
<line x1="269.9" y1="637.0" x2="278.6" y2="637.0" stroke="#000" stroke-width="1.3"/>
<line x1="269.9" y1="643.0" x2="278.6" y2="643.0" stroke="#000" stroke-width="1.3"/>
<line x1="274.0" y1="626.0" x2="274.0" y2="656.0" stroke="#000" stroke-width="1"/>
<polyline points="274.0,626.0 282.0,626.0 282.0,622.5" fill="none" stroke="#000" stroke-width="1"/>
<circle cx="274.2" cy="640.0" r="1.6" fill="#000"/>
<polyline points="274.0,639.0 281.0,639.0 281.0,635.0 287.0,635.0 287.0,639.0" fill="none" stroke="#000" stroke-width="1"/>
<rect x="283.0" y="639.0" width="14.0" height="6.0" fill="none" stroke="#000" stroke-width="1"/>
<line x1="283.0" y1="645.0" x2="297.0" y2="639.0" stroke="#000" stroke-width="1"/>
<polyline points="294.0,622.5 294.0,628.0 298.0,628.0 298.0,648.0 295.0,648.0" fill="none" stroke="#000" stroke-width="1"/>
<circle cx="295.0" cy="648.0" r="1.6" fill="#000"/>
<polyline points="295.0,645.0 295.0,656.0 274.0,656.0" fill="none" stroke="#000" stroke-width="1"/>
<line x1="297.0" y1="642.0" x2="316.0" y2="642.0" stroke="#555" stroke-width="1" stroke-dasharray="1.5,1.5"/>
<polyline points="305.0,622.5 305.0,628.0 309.0,628.0 309.0,635.0" fill="none" stroke="#000" stroke-width="1"/>
<circle cx="309.0" cy="637.0" r="1.6" fill="#fff" stroke="#000" stroke-width="1"/>
<circle cx="325.0" cy="636.0" r="1.6" fill="#fff" stroke="#000" stroke-width="1"/>
<circle cx="317.0" cy="651.0" r="1.6" fill="#fff" stroke="#000" stroke-width="1"/>
<line x1="317.0" y1="650.0" x2="325.0" y2="637.0" stroke="#000" stroke-width="2.6"/>
<polyline points="328.5,622.5 328.5,628.0 335.0,628.0 335.0,656.0 317.0,656.0 317.0,653.0" fill="none" stroke="#000" stroke-width="1"/>
<polyline points="318.0,622.5 318.0,628.0 322.0,628.0 322.0,634.0" fill="none" stroke="#555" stroke-width="1"/>
<rect x="125.0" y="623.0" width="34.0" height="53.0" fill="none" stroke="#000" stroke-width="2"/>
<rect x="130.5" y="611.5" width="11.5" height="11.0" fill="none" stroke="#333" stroke-width="1"/>
<text x="134.1" y="620.7" font-size="10" textLength="4.5" lengthAdjust="spacingAndGlyphs">1</text>
<rect x="142.0" y="611.5" width="11.5" height="11.0" fill="none" stroke="#333" stroke-width="1"/>
<text x="145.7" y="620.7" font-size="10" textLength="4.5" lengthAdjust="spacingAndGlyphs">2</text>
<text transform="translate(125.0,596.6) rotate(-90)" font-size="10.5" textLength="10.8" lengthAdjust="spacingAndGlyphs">NR</text>
<text transform="translate(125.0,613.5) rotate(-90)" font-size="10.5" textLength="9.2" lengthAdjust="spacingAndGlyphs">2V</text>
<text transform="translate(134.8,610.0) rotate(-90)" font-size="10.5" textLength="21.2" lengthAdjust="spacingAndGlyphs">6705</text>
<text transform="translate(146.5,610.0) rotate(-90)" font-size="10.5" textLength="21.2" lengthAdjust="spacingAndGlyphs">6706</text>
<line x1="136.0" y1="622.5" x2="136.0" y2="636.6" stroke="#000" stroke-width="1"/>
<line x1="147.5" y1="622.5" x2="147.5" y2="636.6" stroke="#000" stroke-width="1"/>
<rect x="132.0" y="636.5" width="19.5" height="7.5" fill="none" stroke="#000" stroke-width="1"/>
<line x1="136.0" y1="644.2" x2="147.5" y2="636.6" stroke="#000" stroke-width="1"/>
<line x1="142.0" y1="644.2" x2="142.0" y2="657.8" stroke="#000" stroke-width="1"/>
<path d="M130.5,652.4 L141.8,657.8 L130.5,663.3 Z M153.1,652.4 L141.8,657.8 L153.1,663.3 Z" fill="none" stroke="#111" stroke-width="1"/>
<text x="131.8" y="691.5" font-size="11" textLength="20.0" lengthAdjust="spacingAndGlyphs">1610</text>
<rect x="685.0" y="115.0" width="175.0" height="176.0" fill="none" stroke="#000" stroke-width="2.2"/>
<rect x="690.5" y="104.0" width="11.5" height="11.5" fill="none" stroke="#333" stroke-width="1"/>
<text x="691.5" y="113.6" font-size="10" textLength="9.2" lengthAdjust="spacingAndGlyphs">11</text>
<rect x="702.0" y="104.0" width="11.5" height="11.5" fill="none" stroke="#333" stroke-width="1"/>
<text x="705.5" y="113.6" font-size="10" textLength="4.6" lengthAdjust="spacingAndGlyphs">2</text>
<rect x="713.5" y="104.0" width="12.0" height="11.5" fill="none" stroke="#333" stroke-width="1"/>
<text x="714.9" y="113.6" font-size="10" textLength="9.2" lengthAdjust="spacingAndGlyphs">12</text>
<rect x="725.5" y="104.0" width="11.5" height="11.5" fill="none" stroke="#333" stroke-width="1"/>
<text x="726.6" y="113.6" font-size="10" textLength="9.2" lengthAdjust="spacingAndGlyphs">28</text>
<rect x="737.0" y="104.0" width="11.5" height="11.5" fill="none" stroke="#333" stroke-width="1"/>
<rect x="748.5" y="104.0" width="12.0" height="11.5" fill="none" stroke="#333" stroke-width="1"/>
<rect x="760.5" y="104.0" width="11.5" height="11.5" fill="none" stroke="#333" stroke-width="1"/>
<rect x="772.0" y="104.0" width="11.5" height="11.5" fill="none" stroke="#333" stroke-width="1"/>
<rect x="783.5" y="104.0" width="12.0" height="11.5" fill="none" stroke="#333" stroke-width="1"/>
<rect x="795.5" y="104.0" width="11.5" height="11.5" fill="none" stroke="#333" stroke-width="1"/>
<rect x="807.0" y="104.0" width="12.0" height="11.5" fill="none" stroke="#333" stroke-width="1"/>
<rect x="819.0" y="104.0" width="11.5" height="11.5" fill="none" stroke="#333" stroke-width="1"/>
<text x="820.0" y="113.6" font-size="10" textLength="9.2" lengthAdjust="spacingAndGlyphs">36</text>
<rect x="830.5" y="104.0" width="11.5" height="11.5" fill="none" stroke="#333" stroke-width="1"/>
<text x="831.7" y="113.6" font-size="10" textLength="9.2" lengthAdjust="spacingAndGlyphs">37</text>
<line x1="696.5" y1="14.0" x2="696.5" y2="103.8" stroke="#000" stroke-width="1"/>
<text transform="translate(695.2,101.5) rotate(-90)" font-size="10.5" textLength="21.2" lengthAdjust="spacingAndGlyphs">6742</text>
<line x1="708.0" y1="14.0" x2="708.0" y2="103.8" stroke="#000" stroke-width="1"/>
<text transform="translate(706.8,101.5) rotate(-90)" font-size="10.5" textLength="26.5" lengthAdjust="spacingAndGlyphs">6706A</text>
<line x1="719.5" y1="14.0" x2="719.5" y2="103.8" stroke="#000" stroke-width="1"/>
<text transform="translate(718.4,101.5) rotate(-90)" font-size="10.5" textLength="26.5" lengthAdjust="spacingAndGlyphs">6705A</text>
<line x1="731.5" y1="14.0" x2="731.5" y2="103.8" stroke="#000" stroke-width="1"/>
<text transform="translate(730.1,101.5) rotate(-90)" font-size="10.5" textLength="26.5" lengthAdjust="spacingAndGlyphs">MC10J</text>
<line x1="824.5" y1="14.0" x2="824.5" y2="103.8" stroke="#000" stroke-width="1"/>
<text transform="translate(823.5,101.5) rotate(-90)" font-size="10.5" textLength="21.2" lengthAdjust="spacingAndGlyphs">6713</text>
<line x1="836.5" y1="14.0" x2="836.5" y2="103.8" stroke="#000" stroke-width="1"/>
<text transform="translate(835.2,101.5) rotate(-90)" font-size="10.5" textLength="21.2" lengthAdjust="spacingAndGlyphs">6712</text>
<text transform="translate(685.5,86.2) rotate(-90)" font-size="10.5" textLength="10.8" lengthAdjust="spacingAndGlyphs">NR</text>
<text transform="translate(685.5,107.7) rotate(-90)" font-size="10.5" textLength="13.8" lengthAdjust="spacingAndGlyphs">56V</text>
<rect x="673.5" y="121.0" width="11.0" height="12.0" fill="none" stroke="#333" stroke-width="1"/>
<rect x="673.5" y="133.0" width="11.0" height="11.5" fill="none" stroke="#333" stroke-width="1"/>
<rect x="673.5" y="144.5" width="11.0" height="11.5" fill="none" stroke="#333" stroke-width="1"/>
<rect x="673.5" y="156.0" width="11.0" height="12.0" fill="none" stroke="#333" stroke-width="1"/>
<rect x="673.5" y="168.0" width="11.0" height="11.5" fill="none" stroke="#333" stroke-width="1"/>
<rect x="673.5" y="179.5" width="11.0" height="11.5" fill="none" stroke="#333" stroke-width="1"/>
<rect x="673.5" y="191.0" width="11.0" height="12.0" fill="none" stroke="#333" stroke-width="1"/>
<rect x="673.5" y="203.0" width="11.0" height="11.5" fill="none" stroke="#333" stroke-width="1"/>
<text transform="translate(682.5,213.5) rotate(-90)" font-size="10" textLength="9.4" lengthAdjust="spacingAndGlyphs">27</text>
<rect x="673.5" y="214.5" width="11.0" height="12.0" fill="none" stroke="#333" stroke-width="1"/>
<text transform="translate(682.5,225.2) rotate(-90)" font-size="10" textLength="9.4" lengthAdjust="spacingAndGlyphs">56</text>
<rect x="673.5" y="226.5" width="11.0" height="11.5" fill="none" stroke="#333" stroke-width="1"/>
<text transform="translate(682.5,236.9) rotate(-90)" font-size="10" textLength="9.4" lengthAdjust="spacingAndGlyphs">34</text>
<rect x="673.5" y="238.0" width="11.0" height="11.5" fill="none" stroke="#333" stroke-width="1"/>
<text transform="translate(682.5,248.5) rotate(-90)" font-size="10" textLength="9.4" lengthAdjust="spacingAndGlyphs">31</text>
<rect x="673.5" y="249.5" width="11.0" height="12.0" fill="none" stroke="#333" stroke-width="1"/>
<text transform="translate(682.5,260.2) rotate(-90)" font-size="10" textLength="9.4" lengthAdjust="spacingAndGlyphs">32</text>
<rect x="673.5" y="261.5" width="11.0" height="11.5" fill="none" stroke="#333" stroke-width="1"/>
<text transform="translate(682.5,271.9) rotate(-90)" font-size="10" textLength="9.4" lengthAdjust="spacingAndGlyphs">33</text>
<rect x="673.5" y="273.0" width="11.0" height="12.0" fill="none" stroke="#333" stroke-width="1"/>
<text transform="translate(682.5,283.6) rotate(-90)" font-size="10" textLength="9.4" lengthAdjust="spacingAndGlyphs">42</text>
<text x="668.4" y="207.3" font-size="10.5" textLength="26.5" lengthAdjust="spacingAndGlyphs" text-anchor="end">CM04A</text>
<text x="668.4" y="219.1" font-size="10.5" textLength="21.2" lengthAdjust="spacingAndGlyphs" text-anchor="end">BM05</text>
<text x="668.4" y="230.9" font-size="10.5" textLength="21.2" lengthAdjust="spacingAndGlyphs" text-anchor="end">6791</text>
<text x="668.4" y="242.6" font-size="10.5" textLength="21.2" lengthAdjust="spacingAndGlyphs" text-anchor="end">6735</text>
<text x="668.4" y="254.3" font-size="10.5" textLength="21.2" lengthAdjust="spacingAndGlyphs" text-anchor="end">6736</text>
<text x="668.4" y="266.0" font-size="10.5" textLength="21.2" lengthAdjust="spacingAndGlyphs" text-anchor="end">6737</text>
<text x="668.4" y="277.7" font-size="10.5" textLength="26.5" lengthAdjust="spacingAndGlyphs" text-anchor="end">M163E</text>
<rect x="860.0" y="121.5" width="11.5" height="11.5" fill="none" stroke="#333" stroke-width="1"/>
<rect x="860.0" y="133.0" width="11.5" height="11.5" fill="none" stroke="#333" stroke-width="1"/>
<rect x="860.0" y="144.5" width="11.5" height="12.0" fill="none" stroke="#333" stroke-width="1"/>
<text transform="translate(869.4,155.2) rotate(-90)" font-size="10" textLength="9.4" lengthAdjust="spacingAndGlyphs">30</text>
<rect x="860.0" y="156.5" width="11.5" height="11.5" fill="none" stroke="#333" stroke-width="1"/>
<text transform="translate(869.4,166.9) rotate(-90)" font-size="10" textLength="9.4" lengthAdjust="spacingAndGlyphs">29</text>
<rect x="860.0" y="168.0" width="11.5" height="12.0" fill="none" stroke="#333" stroke-width="1"/>
<text transform="translate(869.4,178.6) rotate(-90)" font-size="10" textLength="9.4" lengthAdjust="spacingAndGlyphs">17</text>
<rect x="860.0" y="180.0" width="11.5" height="11.5" fill="none" stroke="#333" stroke-width="1"/>
<text transform="translate(869.4,190.3) rotate(-90)" font-size="10" textLength="9.4" lengthAdjust="spacingAndGlyphs">18</text>
<rect x="860.0" y="191.5" width="11.5" height="11.5" fill="none" stroke="#333" stroke-width="1"/>
<text transform="translate(869.4,202.0) rotate(-90)" font-size="10" textLength="9.4" lengthAdjust="spacingAndGlyphs">16</text>
<rect x="860.0" y="203.0" width="11.5" height="12.0" fill="none" stroke="#333" stroke-width="1"/>
<text transform="translate(869.4,213.7) rotate(-90)" font-size="10" textLength="9.4" lengthAdjust="spacingAndGlyphs">35</text>
<rect x="860.0" y="215.0" width="11.5" height="11.5" fill="none" stroke="#333" stroke-width="1"/>
<text transform="translate(869.4,225.4) rotate(-90)" font-size="10" textLength="9.4" lengthAdjust="spacingAndGlyphs">39</text>
<rect x="860.0" y="226.5" width="11.5" height="11.5" fill="none" stroke="#333" stroke-width="1"/>
<text transform="translate(869.4,237.1) rotate(-90)" font-size="10" textLength="9.4" lengthAdjust="spacingAndGlyphs">47</text>
<rect x="860.0" y="238.0" width="11.5" height="12.0" fill="none" stroke="#333" stroke-width="1"/>
<text transform="translate(869.4,248.7) rotate(-90)" font-size="10" textLength="9.4" lengthAdjust="spacingAndGlyphs">48</text>
<rect x="860.0" y="250.0" width="11.5" height="11.5" fill="none" stroke="#333" stroke-width="1"/>
<text transform="translate(869.4,260.4) rotate(-90)" font-size="10" textLength="9.4" lengthAdjust="spacingAndGlyphs">45</text>
<rect x="860.0" y="261.5" width="11.5" height="12.0" fill="none" stroke="#333" stroke-width="1"/>
<text transform="translate(869.4,272.1) rotate(-90)" font-size="10" textLength="9.4" lengthAdjust="spacingAndGlyphs">46</text>
<rect x="860.0" y="273.5" width="11.5" height="11.5" fill="none" stroke="#333" stroke-width="1"/>
<text transform="translate(869.4,283.8) rotate(-90)" font-size="10" textLength="9.4" lengthAdjust="spacingAndGlyphs">24</text>
<text x="874.7" y="149.2" font-size="10.5" textLength="26.5" lengthAdjust="spacingAndGlyphs">9000A</text>
<text x="874.7" y="160.9" font-size="10.5" textLength="26.5" lengthAdjust="spacingAndGlyphs">9001A</text>
<text x="874.7" y="172.6" font-size="10.5" textLength="21.2" lengthAdjust="spacingAndGlyphs">9007</text>
<text x="874.7" y="184.3" font-size="10.5" textLength="21.2" lengthAdjust="spacingAndGlyphs">9006</text>
<text x="874.7" y="196.0" font-size="10.5" textLength="21.2" lengthAdjust="spacingAndGlyphs">210C</text>
<text x="874.7" y="207.6" font-size="10.5" textLength="21.2" lengthAdjust="spacingAndGlyphs">9010</text>
<text x="874.7" y="219.3" font-size="10.5" textLength="21.2" lengthAdjust="spacingAndGlyphs">9011</text>
<text x="874.7" y="231.0" font-size="10.5" textLength="21.2" lengthAdjust="spacingAndGlyphs">6715</text>
<text x="874.7" y="242.7" font-size="10.5" textLength="21.2" lengthAdjust="spacingAndGlyphs">6714</text>
<text x="874.7" y="254.4" font-size="10.5" textLength="21.2" lengthAdjust="spacingAndGlyphs">1361</text>
<text x="874.7" y="266.1" font-size="10.5" textLength="21.2" lengthAdjust="spacingAndGlyphs">1362</text>
<text x="874.7" y="277.8" font-size="10.5" textLength="21.2" lengthAdjust="spacingAndGlyphs">6772</text>
<rect x="690.5" y="290.5" width="11.5" height="12.0" fill="none" stroke="#333" stroke-width="1"/>
<text x="691.6" y="300.4" font-size="10" textLength="9.2" lengthAdjust="spacingAndGlyphs">53</text>
<rect x="702.0" y="290.5" width="12.0" height="12.0" fill="none" stroke="#333" stroke-width="1"/>
<text x="703.4" y="300.4" font-size="10" textLength="9.2" lengthAdjust="spacingAndGlyphs">54</text>
<rect x="714.0" y="290.5" width="11.5" height="12.0" fill="none" stroke="#333" stroke-width="1"/>
<text x="715.0" y="300.4" font-size="10" textLength="9.2" lengthAdjust="spacingAndGlyphs">14</text>
<rect x="725.5" y="290.5" width="11.5" height="12.0" fill="none" stroke="#333" stroke-width="1"/>
<text x="726.8" y="300.4" font-size="10" textLength="9.2" lengthAdjust="spacingAndGlyphs">13</text>
<rect x="737.0" y="290.5" width="12.0" height="12.0" fill="none" stroke="#333" stroke-width="1"/>
<text x="740.8" y="300.4" font-size="10" textLength="4.6" lengthAdjust="spacingAndGlyphs">8</text>
<rect x="749.0" y="290.5" width="11.5" height="12.0" fill="none" stroke="#333" stroke-width="1"/>
<text x="752.5" y="300.4" font-size="10" textLength="4.6" lengthAdjust="spacingAndGlyphs">7</text>
<rect x="760.5" y="290.5" width="12.0" height="12.0" fill="none" stroke="#333" stroke-width="1"/>
<text x="764.1" y="300.4" font-size="10" textLength="4.6" lengthAdjust="spacingAndGlyphs">1</text>
<rect x="772.5" y="290.5" width="11.5" height="12.0" fill="none" stroke="#333" stroke-width="1"/>
<text x="775.9" y="300.4" font-size="10" textLength="4.6" lengthAdjust="spacingAndGlyphs">9</text>
<rect x="784.0" y="290.5" width="11.5" height="12.0" fill="none" stroke="#333" stroke-width="1"/>
<text x="785.2" y="300.4" font-size="10" textLength="9.2" lengthAdjust="spacingAndGlyphs">10</text>
<rect x="795.5" y="290.5" width="12.0" height="12.0" fill="none" stroke="#333" stroke-width="1"/>
<text x="796.9" y="300.4" font-size="10" textLength="9.2" lengthAdjust="spacingAndGlyphs">20</text>
<rect x="807.5" y="290.5" width="11.5" height="12.0" fill="none" stroke="#333" stroke-width="1"/>
<text x="808.6" y="300.4" font-size="10" textLength="9.2" lengthAdjust="spacingAndGlyphs">19</text>
<rect x="819.0" y="290.5" width="12.0" height="12.0" fill="none" stroke="#333" stroke-width="1"/>
<text x="820.3" y="300.4" font-size="10" textLength="9.2" lengthAdjust="spacingAndGlyphs">26</text>
<rect x="831.0" y="290.5" width="11.5" height="12.0" fill="none" stroke="#333" stroke-width="1"/>
<text x="832.0" y="300.4" font-size="10" textLength="9.2" lengthAdjust="spacingAndGlyphs">25</text>
<rect x="842.5" y="290.5" width="11.5" height="12.0" fill="none" stroke="#333" stroke-width="1"/>
<text x="843.8" y="300.4" font-size="10" textLength="9.2" lengthAdjust="spacingAndGlyphs">55</text>
<text transform="translate(695.0,327.6) rotate(-90)" font-size="10.5" textLength="21.2" lengthAdjust="spacingAndGlyphs">6711</text>
<text transform="translate(706.8,327.6) rotate(-90)" font-size="10.5" textLength="21.2" lengthAdjust="spacingAndGlyphs">6710</text>
<text transform="translate(718.4,327.6) rotate(-90)" font-size="10.5" textLength="21.2" lengthAdjust="spacingAndGlyphs">6723</text>
<text transform="translate(730.1,327.6) rotate(-90)" font-size="10.5" textLength="21.2" lengthAdjust="spacingAndGlyphs">6722</text>
<text transform="translate(741.8,327.6) rotate(-90)" font-size="10.5" textLength="21.2" lengthAdjust="spacingAndGlyphs">6721</text>
<text transform="translate(753.5,327.6) rotate(-90)" font-size="10.5" textLength="21.2" lengthAdjust="spacingAndGlyphs">6720</text>
<text transform="translate(765.2,327.6) rotate(-90)" font-size="10.5" textLength="21.2" lengthAdjust="spacingAndGlyphs">6703</text>
<text transform="translate(776.9,327.6) rotate(-90)" font-size="10.5" textLength="21.2" lengthAdjust="spacingAndGlyphs">6719</text>
<text transform="translate(788.6,327.6) rotate(-90)" font-size="10.5" textLength="21.2" lengthAdjust="spacingAndGlyphs">6718</text>
<text transform="translate(800.3,327.6) rotate(-90)" font-size="10.5" textLength="21.2" lengthAdjust="spacingAndGlyphs">6726</text>
<text transform="translate(812.0,327.6) rotate(-90)" font-size="10.5" textLength="21.2" lengthAdjust="spacingAndGlyphs">6708</text>
<text transform="translate(823.7,327.6) rotate(-90)" font-size="10.5" textLength="21.2" lengthAdjust="spacingAndGlyphs">6704</text>
<text transform="translate(835.4,327.6) rotate(-90)" font-size="10.5" textLength="21.2" lengthAdjust="spacingAndGlyphs">6773</text>
<text transform="translate(847.1,327.6) rotate(-90)" font-size="10.5" textLength="21.2" lengthAdjust="spacingAndGlyphs">6774</text>
<rect x="723.0" y="177.0" width="24.0" height="24.5" fill="none" stroke="#444" stroke-width="1"/>
<line x1="725.6" y1="182.5" x2="729.4" y2="182.5" stroke="#000" stroke-width="1.4"/>
<line x1="741.4" y1="182.5" x2="744.7" y2="182.5" stroke="#000" stroke-width="1.4"/>
<line x1="725.6" y1="185.9" x2="729.4" y2="185.9" stroke="#000" stroke-width="1.4"/>
<line x1="741.4" y1="185.9" x2="744.7" y2="185.9" stroke="#000" stroke-width="1.4"/>
<line x1="725.6" y1="189.3" x2="729.4" y2="189.3" stroke="#000" stroke-width="1.4"/>
<line x1="741.4" y1="189.3" x2="744.7" y2="189.3" stroke="#000" stroke-width="1.4"/>
<line x1="725.6" y1="192.7" x2="729.4" y2="192.7" stroke="#000" stroke-width="1.4"/>
<line x1="741.4" y1="192.7" x2="744.7" y2="192.7" stroke="#000" stroke-width="1.4"/>
<line x1="725.6" y1="196.1" x2="729.4" y2="196.1" stroke="#000" stroke-width="1.4"/>
<line x1="741.4" y1="196.1" x2="744.7" y2="196.1" stroke="#000" stroke-width="1.4"/>
<rect x="729.4" y="179.6" width="12.0" height="19.4" fill="#fff" stroke="#000" stroke-width="2"/>
<path d="M733.4,179.6 A2,1.6 0 0 0 737.4,179.6 Z" fill="#000"/>
<text x="762.1" y="265.5" font-size="10.5" textLength="19.7" lengthAdjust="spacingAndGlyphs">1630</text>
<rect x="797.5" y="177.5" width="23.0" height="23.0" fill="none" stroke="#444" stroke-width="1"/>
<path d="M800.6,181.9 L805.0,185.9 L814.9,185.9 L817.7,187.5 L817.7,192.8 L805.0,192.8 L800.6,196.1 L800.6,181.9 Z" fill="none" stroke="#000" stroke-width="1.7" stroke-linejoin="miter"/>
<line x1="814.6" y1="185.9" x2="817.9" y2="181.2" stroke="#000" stroke-width="1.3"/>
<circle cx="817.9" cy="181.2" r="1.4" fill="#000"/>
<text x="803.6" y="198.4" font-size="5" font-weight="bold" textLength="14.0" lengthAdjust="spacingAndGlyphs" style="stroke-width:0.5px">AUTO</text>
<polyline points="871.5,150.5 912.5,150.5 912.5,14.0" fill="none" stroke="#000" stroke-width="2.8"/>
<polyline points="871.5,162.0 924.0,162.0 924.0,14.0" fill="none" stroke="#000" stroke-width="2.8"/>
<polyline points="871.5,174.0 953.5,174.0 953.5,14.0" fill="none" stroke="#000" stroke-width="1"/>
<polyline points="871.5,185.5 964.5,185.5 964.5,14.0" fill="none" stroke="#000" stroke-width="1"/>
<polyline points="871.5,197.5 1046.5,197.5 1046.5,279.0" fill="none" stroke="#000" stroke-width="1"/>
<circle cx="935.6" cy="197.3" r="1.6" fill="#000"/>
<line x1="935.5" y1="197.3" x2="935.5" y2="14.0" stroke="#000" stroke-width="1"/>
<polyline points="871.5,209.0 1035.0,209.0 1035.0,279.0" fill="none" stroke="#000" stroke-width="2.8"/>
<polyline points="871.5,220.5 1023.5,220.5 1023.5,279.0" fill="none" stroke="#000" stroke-width="2.8"/>
<polyline points="871.5,232.5 965.0,232.5 965.0,465.5 1000.0,465.5 1000.0,523.5" fill="none" stroke="#000" stroke-width="1"/>
<polyline points="871.5,244.0 953.5,244.0 953.5,477.0 988.5,477.0 988.5,523.5" fill="none" stroke="#000" stroke-width="1"/>
<polyline points="871.5,255.5 941.5,255.5 941.5,523.5" fill="none" stroke="#000" stroke-width="1"/>
<polyline points="871.5,267.5 930.0,267.5 930.0,523.5" fill="none" stroke="#000" stroke-width="1"/>
<polyline points="871.5,279.0 918.0,279.0 918.0,477.0 883.0,477.0 883.0,523.5" fill="none" stroke="#000" stroke-width="1"/>
<line x1="696.5" y1="302.4" x2="696.5" y2="523.6" stroke="#000" stroke-width="1"/>
<line x1="708.0" y1="302.4" x2="708.0" y2="523.6" stroke="#000" stroke-width="1"/>
<line x1="719.5" y1="302.4" x2="719.5" y2="523.6" stroke="#000" stroke-width="1"/>
<line x1="731.5" y1="302.4" x2="731.5" y2="523.6" stroke="#000" stroke-width="1"/>
<line x1="743.0" y1="302.4" x2="743.0" y2="523.6" stroke="#000" stroke-width="1"/>
<line x1="755.0" y1="302.4" x2="755.0" y2="523.6" stroke="#000" stroke-width="1"/>
<line x1="766.5" y1="302.4" x2="766.5" y2="523.6" stroke="#000" stroke-width="1"/>
<line x1="778.0" y1="302.4" x2="778.0" y2="523.6" stroke="#000" stroke-width="1"/>
<line x1="790.0" y1="302.4" x2="790.0" y2="523.6" stroke="#000" stroke-width="1"/>
<line x1="801.5" y1="302.4" x2="801.5" y2="523.6" stroke="#000" stroke-width="1"/>
<line x1="813.5" y1="302.4" x2="813.5" y2="523.6" stroke="#000" stroke-width="1"/>
<line x1="825.0" y1="302.4" x2="825.0" y2="523.6" stroke="#000" stroke-width="1"/>
<polyline points="836.5,302.5 836.5,477.0 859.5,477.0 859.5,523.5" fill="none" stroke="#000" stroke-width="1"/>
<polyline points="848.5,302.5 848.5,465.5 871.5,465.5 871.5,523.5" fill="none" stroke="#000" stroke-width="1"/>
<rect x="976.5" y="39.5" width="70.0" height="145.5" fill="none" stroke="#222" stroke-width="1" stroke-dasharray="11.5,5.5"/>
<rect x="994.0" y="87.0" width="12.0" height="10.0" fill="none" stroke="#333" stroke-width="1"/>
<text x="994.9" y="95.5" font-size="9.5" textLength="10.0" lengthAdjust="spacingAndGlyphs">B4</text>
<rect x="1006.0" y="87.0" width="11.5" height="10.0" fill="none" stroke="#333" stroke-width="1"/>
<text x="1006.7" y="95.5" font-size="9.5" textLength="10.0" lengthAdjust="spacingAndGlyphs">A3</text>
<rect x="1017.5" y="87.0" width="12.0" height="10.0" fill="none" stroke="#333" stroke-width="1"/>
<text x="1018.5" y="95.5" font-size="9.5" textLength="10.0" lengthAdjust="spacingAndGlyphs">A4</text>
<line x1="1000.0" y1="14.0" x2="1000.0" y2="87.0" stroke="#000" stroke-width="1"/>
<polyline points="1012.0,87.0 1012.0,16.5 1070.0,16.5 1070.0,279.0" fill="none" stroke="#000" stroke-width="2.9"/>
<polyline points="1023.5,87.0 1023.5,28.5 1058.5,28.5 1058.5,279.0" fill="none" stroke="#000" stroke-width="2.9"/>
<text transform="translate(989.0,67.6) rotate(-90)" font-size="10.5" textLength="10.8" lengthAdjust="spacingAndGlyphs">NR</text>
<text transform="translate(989.0,89.1) rotate(-90)" font-size="10.5" textLength="13.8" lengthAdjust="spacingAndGlyphs">32V</text>
<text transform="translate(998.6,84.0) rotate(-90)" font-size="10.5" textLength="27.0" lengthAdjust="spacingAndGlyphs">9006A</text>
<text transform="translate(1010.2,84.0) rotate(-90)" font-size="10.5" textLength="27.0" lengthAdjust="spacingAndGlyphs">9011A</text>
<text transform="translate(1022.0,84.0) rotate(-90)" font-size="10.5" textLength="27.0" lengthAdjust="spacingAndGlyphs">9010A</text>
<rect x="982.0" y="97.0" width="59.0" height="36.0" fill="none" stroke="#000" stroke-width="2"/>
<rect x="988.5" y="103.5" width="22.5" height="24.0" fill="none" stroke="#444" stroke-width="1"/>
<line x1="990.6" y1="108.7" x2="994.2" y2="108.7" stroke="#000" stroke-width="1.4"/>
<line x1="1005.6" y1="108.7" x2="1008.7" y2="108.7" stroke="#000" stroke-width="1.4"/>
<line x1="990.6" y1="112.1" x2="994.2" y2="112.1" stroke="#000" stroke-width="1.4"/>
<line x1="1005.6" y1="112.1" x2="1008.7" y2="112.1" stroke="#000" stroke-width="1.4"/>
<line x1="990.6" y1="115.5" x2="994.2" y2="115.5" stroke="#000" stroke-width="1.4"/>
<line x1="1005.6" y1="115.5" x2="1008.7" y2="115.5" stroke="#000" stroke-width="1.4"/>
<line x1="990.6" y1="118.9" x2="994.2" y2="118.9" stroke="#000" stroke-width="1.4"/>
<line x1="1005.6" y1="118.9" x2="1008.7" y2="118.9" stroke="#000" stroke-width="1.4"/>
<line x1="990.6" y1="122.3" x2="994.2" y2="122.3" stroke="#000" stroke-width="1.4"/>
<line x1="1005.6" y1="122.3" x2="1008.7" y2="122.3" stroke="#000" stroke-width="1.4"/>
<rect x="994.2" y="105.7" width="11.4" height="19.5" fill="#fff" stroke="#000" stroke-width="2"/>
<path d="M997.9,105.7 A2,1.6 0 0 0 1001.9,105.7 Z" fill="#000"/>
<rect x="1011.0" y="103.5" width="24.5" height="24.0" fill="none" stroke="#555" stroke-width="1"/>
<rect x="1020.5" y="105.5" width="4.6" height="4.9" fill="#fff" stroke="#111" stroke-width="1.3" rx="0.8"/>
<path d="M1025.1,106.0 L1028.5,105.7 L1029.1,107.0 L1026.4,112.3" fill="none" stroke="#111" stroke-width="1.3"/>
<rect x="1019.4" y="110.4" width="7.8" height="4.1" fill="#fff" stroke="#111" stroke-width="1.3" rx="1.2"/>
<line x1="1019.9" y1="112.5" x2="1026.8" y2="112.5" stroke="#555" stroke-width="1"/>
<rect x="1021.1" y="114.5" width="3.6" height="4.6" fill="#fff" stroke="#111" stroke-width="1.3" rx="0.8"/>
<rect x="1022.2" y="119.2" width="1.7" height="4.1" fill="#888"/>
<path d="M1023.0,122.8 L1024.7,124.8 L1021.3,124.8 Z M1023.0,124.3 L1025.1,127.0 L1020.9,127.0 Z" fill="#444"/>
<text x="1000.0" y="149.0" font-size="10.5" textLength="22.0" lengthAdjust="spacingAndGlyphs">1320</text>
<rect x="982.5" y="156.5" width="23.0" height="23.0" fill="none" stroke="#000" stroke-width="1.1"/>
<rect x="991.1" y="158.2" width="5.2" height="4.7" fill="#fff" stroke="#111" stroke-width="1.3" rx="0.8"/>
<path d="M996.3,158.7 L1000.0,158.5 L1000.7,159.6 L997.7,164.8" fill="none" stroke="#111" stroke-width="1.3"/>
<rect x="989.9" y="162.9" width="8.7" height="4.0" fill="#fff" stroke="#111" stroke-width="1.3" rx="1.2"/>
<line x1="990.4" y1="165.0" x2="998.1" y2="165.0" stroke="#555" stroke-width="1"/>
<rect x="991.8" y="167.0" width="4.0" height="4.5" fill="#fff" stroke="#111" stroke-width="1.3" rx="0.8"/>
<rect x="993.0" y="171.4" width="1.9" height="4.0" fill="#888"/>
<path d="M993.9,175.0 L995.8,176.9 L992.0,176.9 Z M993.9,176.4 L996.3,179.0 L991.5,179.0 Z" fill="#444"/>
<text x="1012.2" y="172.2" font-size="11" textLength="10.0" lengthAdjust="spacingAndGlyphs" style="stroke-width:0.15px">12</text>
<line x1="1024.0" y1="169.0" x2="1027.9" y2="169.0" stroke="#000" stroke-width="1.1"/>
<line x1="1030.9" y1="169.0" x2="1034.8" y2="169.0" stroke="#000" stroke-width="1.1"/>
<rect x="1005.5" y="232.5" width="88.0" height="145.5" fill="none" stroke="#222" stroke-width="1" stroke-dasharray="11.5,5.5"/>
<rect x="1017.5" y="279.0" width="11.5" height="11.0" fill="none" stroke="#333" stroke-width="1"/>
<text x="1018.6" y="288.3" font-size="10" textLength="9.4" lengthAdjust="spacingAndGlyphs">25</text>
<rect x="1029.0" y="279.0" width="12.0" height="11.0" fill="none" stroke="#333" stroke-width="1"/>
<text x="1030.3" y="288.3" font-size="10" textLength="9.4" lengthAdjust="spacingAndGlyphs">45</text>
<rect x="1041.0" y="279.0" width="11.5" height="11.0" fill="none" stroke="#333" stroke-width="1"/>
<text x="1041.9" y="288.3" font-size="10" textLength="9.4" lengthAdjust="spacingAndGlyphs">30</text>
<rect x="1052.5" y="279.0" width="11.5" height="11.0" fill="none" stroke="#333" stroke-width="1"/>
<text x="1053.6" y="288.3" font-size="10" textLength="9.4" lengthAdjust="spacingAndGlyphs">35</text>
<rect x="1064.0" y="279.0" width="12.0" height="11.0" fill="none" stroke="#333" stroke-width="1"/>
<text x="1065.3" y="288.3" font-size="10" textLength="9.4" lengthAdjust="spacingAndGlyphs">14</text>
<text transform="translate(1022.0,276.0) rotate(-90)" font-size="10.5" textLength="21.2" lengthAdjust="spacingAndGlyphs">9011</text>
<text transform="translate(1033.7,276.0) rotate(-90)" font-size="10.5" textLength="21.2" lengthAdjust="spacingAndGlyphs">9010</text>
<text transform="translate(1045.2,276.0) rotate(-90)" font-size="10.5" textLength="21.2" lengthAdjust="spacingAndGlyphs">210B</text>
<text transform="translate(1057.0,276.0) rotate(-90)" font-size="10.5" textLength="26.5" lengthAdjust="spacingAndGlyphs">9010A</text>
<text transform="translate(1068.6,276.0) rotate(-90)" font-size="10.5" textLength="26.5" lengthAdjust="spacingAndGlyphs">9011A</text>
<text transform="translate(1089.0,260.8) rotate(-90)" font-size="10.5" textLength="10.8" lengthAdjust="spacingAndGlyphs">NR</text>
<text transform="translate(1089.0,282.3) rotate(-90)" font-size="10.5" textLength="13.8" lengthAdjust="spacingAndGlyphs">46V</text>
<rect x="1012.0" y="291.0" width="70.0" height="35.0" fill="none" stroke="#000" stroke-width="2"/>
<rect x="1020.5" y="296.5" width="23.0" height="23.5" fill="none" stroke="#444" stroke-width="1"/>
<line x1="1022.8" y1="301.7" x2="1026.5" y2="301.7" stroke="#000" stroke-width="1.4"/>
<line x1="1038.0" y1="301.7" x2="1041.2" y2="301.7" stroke="#000" stroke-width="1.4"/>
<line x1="1022.8" y1="305.0" x2="1026.5" y2="305.0" stroke="#000" stroke-width="1.4"/>
<line x1="1038.0" y1="305.0" x2="1041.2" y2="305.0" stroke="#000" stroke-width="1.4"/>
<line x1="1022.8" y1="308.3" x2="1026.5" y2="308.3" stroke="#000" stroke-width="1.4"/>
<line x1="1038.0" y1="308.3" x2="1041.2" y2="308.3" stroke="#000" stroke-width="1.4"/>
<line x1="1022.8" y1="311.6" x2="1026.5" y2="311.6" stroke="#000" stroke-width="1.4"/>
<line x1="1038.0" y1="311.6" x2="1041.2" y2="311.6" stroke="#000" stroke-width="1.4"/>
<line x1="1022.8" y1="314.9" x2="1026.5" y2="314.9" stroke="#000" stroke-width="1.4"/>
<line x1="1038.0" y1="314.9" x2="1041.2" y2="314.9" stroke="#000" stroke-width="1.4"/>
<rect x="1026.5" y="298.9" width="11.5" height="18.7" fill="#fff" stroke="#000" stroke-width="2"/>
<path d="M1030.2,298.9 A2,1.6 0 0 0 1034.2,298.9 Z" fill="#000"/>
<rect x="1049.5" y="296.5" width="23.5" height="23.5" fill="none" stroke="#555" stroke-width="1"/>
<text x="1050.5" y="312.5" font-size="11" font-weight="bold" textLength="21.5" lengthAdjust="spacingAndGlyphs" style="stroke-width:0.7px">ESP</text>
<text x="1035.3" y="340.5" font-size="10.5" textLength="21.0" lengthAdjust="spacingAndGlyphs">7800</text>
<rect x="1011.5" y="349.0" width="23.5" height="23.0" fill="none" stroke="#000" stroke-width="1"/>
<text x="1012.3" y="364.8" font-size="11" font-weight="bold" textLength="22" lengthAdjust="spacingAndGlyphs" style="stroke-width:0.7px">ESP</text>
<text x="1041.0" y="364.6" font-size="11" textLength="10.0" lengthAdjust="spacingAndGlyphs" style="stroke-width:0.15px">78</text>
<line x1="1052.8" y1="361.0" x2="1056.7" y2="361.0" stroke="#000" stroke-width="1.1"/>
<line x1="1059.7" y1="361.0" x2="1063.6" y2="361.0" stroke="#000" stroke-width="1.1"/>
<rect x="509.2" y="547.0" width="496.6" height="6.9" fill="#000"/>
<text transform="translate(504.7,518.4) rotate(-90)" font-size="10.5" textLength="10.8" lengthAdjust="spacingAndGlyphs">GR</text>
<text transform="translate(504.7,539.9) rotate(-90)" font-size="10.5" textLength="13.8" lengthAdjust="spacingAndGlyphs">33V</text>
<rect x="526.5" y="523.5" width="12.0" height="23.5" fill="none" stroke="#333" stroke-width="1"/>
<rect x="538.5" y="523.5" width="11.5" height="23.5" fill="none" stroke="#333" stroke-width="1"/>
<text transform="translate(547.7,541.5) rotate(-90)" font-size="9.5" textLength="9.6" lengthAdjust="spacingAndGlyphs">A3</text>
<text transform="translate(543.1,520.8) rotate(-90)" font-size="10.5" textLength="21.2" lengthAdjust="spacingAndGlyphs">6798</text>
<rect x="550.0" y="523.5" width="12.0" height="23.5" fill="none" stroke="#333" stroke-width="1"/>
<text transform="translate(559.4,541.5) rotate(-90)" font-size="9.5" textLength="9.6" lengthAdjust="spacingAndGlyphs">A4</text>
<text transform="translate(554.8,520.8) rotate(-90)" font-size="10.5" textLength="26.5" lengthAdjust="spacingAndGlyphs">M163C</text>
<rect x="562.0" y="523.5" width="11.5" height="23.5" fill="none" stroke="#333" stroke-width="1"/>
<text transform="translate(571.1,541.5) rotate(-90)" font-size="9.5" textLength="9.6" lengthAdjust="spacingAndGlyphs">A5</text>
<text transform="translate(566.5,520.8) rotate(-90)" font-size="10.5" textLength="21.2" lengthAdjust="spacingAndGlyphs">6701</text>
<rect x="573.5" y="523.5" width="11.5" height="23.5" fill="none" stroke="#333" stroke-width="1"/>
<text transform="translate(582.8,541.5) rotate(-90)" font-size="9.5" textLength="9.6" lengthAdjust="spacingAndGlyphs">A2</text>
<text transform="translate(578.1,520.8) rotate(-90)" font-size="10.5" textLength="21.2" lengthAdjust="spacingAndGlyphs">220A</text>
<rect x="585.0" y="523.5" width="12.0" height="23.5" fill="none" stroke="#333" stroke-width="1"/>
<text transform="translate(594.5,541.5) rotate(-90)" font-size="9.5" textLength="9.6" lengthAdjust="spacingAndGlyphs">A1</text>
<text transform="translate(589.9,520.8) rotate(-90)" font-size="10.5" textLength="26.5" lengthAdjust="spacingAndGlyphs">CM01F</text>
<rect x="597.0" y="523.5" width="11.5" height="23.5" fill="none" stroke="#333" stroke-width="1"/>
<rect x="608.5" y="523.5" width="12.0" height="23.5" fill="none" stroke="#333" stroke-width="1"/>
<text transform="translate(617.9,541.5) rotate(-90)" font-size="9.5" textLength="9.6" lengthAdjust="spacingAndGlyphs">A8</text>
<text transform="translate(613.2,520.8) rotate(-90)" font-size="10.5" textLength="21.2" lengthAdjust="spacingAndGlyphs">6791</text>
<rect x="620.5" y="523.5" width="11.5" height="23.5" fill="none" stroke="#333" stroke-width="1"/>
<text transform="translate(629.6,543.9) rotate(-90)" font-size="9.5" textLength="14.4" lengthAdjust="spacingAndGlyphs">A10</text>
<text transform="translate(625.0,520.8) rotate(-90)" font-size="10.5" textLength="21.2" lengthAdjust="spacingAndGlyphs">6735</text>
<rect x="632.0" y="523.5" width="11.5" height="23.5" fill="none" stroke="#333" stroke-width="1"/>
<text transform="translate(641.2,543.9) rotate(-90)" font-size="9.5" textLength="14.4" lengthAdjust="spacingAndGlyphs">A11</text>
<text transform="translate(636.6,520.8) rotate(-90)" font-size="10.5" textLength="21.2" lengthAdjust="spacingAndGlyphs">6736</text>
<rect x="643.5" y="523.5" width="12.0" height="23.5" fill="none" stroke="#333" stroke-width="1"/>
<text transform="translate(653.0,543.9) rotate(-90)" font-size="9.5" textLength="14.4" lengthAdjust="spacingAndGlyphs">A12</text>
<text transform="translate(648.4,520.8) rotate(-90)" font-size="10.5" textLength="21.2" lengthAdjust="spacingAndGlyphs">6737</text>
<rect x="655.5" y="523.5" width="11.5" height="23.5" fill="none" stroke="#333" stroke-width="1"/>
<text transform="translate(664.7,541.5) rotate(-90)" font-size="9.5" textLength="9.6" lengthAdjust="spacingAndGlyphs">A7</text>
<text transform="translate(660.1,520.8) rotate(-90)" font-size="10.5" textLength="26.5" lengthAdjust="spacingAndGlyphs">M163E</text>
<rect x="690.5" y="523.5" width="11.5" height="23.5" fill="none" stroke="#333" stroke-width="1"/>
<text transform="translate(699.6,541.5) rotate(-90)" font-size="9.5" textLength="9.6" lengthAdjust="spacingAndGlyphs">B4</text>
<text transform="translate(695.0,520.8) rotate(-90)" font-size="10.5" textLength="21.2" lengthAdjust="spacingAndGlyphs">6711</text>
<rect x="702.0" y="523.5" width="12.0" height="23.5" fill="none" stroke="#333" stroke-width="1"/>
<text transform="translate(711.4,541.5) rotate(-90)" font-size="9.5" textLength="9.6" lengthAdjust="spacingAndGlyphs">B1</text>
<text transform="translate(706.8,520.8) rotate(-90)" font-size="10.5" textLength="21.2" lengthAdjust="spacingAndGlyphs">6710</text>
<rect x="714.0" y="523.5" width="11.5" height="23.5" fill="none" stroke="#333" stroke-width="1"/>
<text transform="translate(723.0,541.5) rotate(-90)" font-size="9.5" textLength="9.6" lengthAdjust="spacingAndGlyphs">B2</text>
<text transform="translate(718.4,520.8) rotate(-90)" font-size="10.5" textLength="21.2" lengthAdjust="spacingAndGlyphs">6723</text>
<rect x="725.5" y="523.5" width="11.5" height="23.5" fill="none" stroke="#333" stroke-width="1"/>
<text transform="translate(734.8,541.5) rotate(-90)" font-size="9.5" textLength="9.6" lengthAdjust="spacingAndGlyphs">B5</text>
<text transform="translate(730.1,520.8) rotate(-90)" font-size="10.5" textLength="21.2" lengthAdjust="spacingAndGlyphs">6722</text>
<rect x="737.0" y="523.5" width="12.0" height="23.5" fill="none" stroke="#333" stroke-width="1"/>
<text transform="translate(746.4,541.5) rotate(-90)" font-size="9.5" textLength="9.6" lengthAdjust="spacingAndGlyphs">B7</text>
<text transform="translate(741.8,520.8) rotate(-90)" font-size="10.5" textLength="21.2" lengthAdjust="spacingAndGlyphs">6721</text>
<rect x="749.0" y="523.5" width="11.5" height="23.5" fill="none" stroke="#333" stroke-width="1"/>
<text transform="translate(758.1,543.9) rotate(-90)" font-size="9.5" textLength="14.4" lengthAdjust="spacingAndGlyphs">B10</text>
<text transform="translate(753.5,520.8) rotate(-90)" font-size="10.5" textLength="21.2" lengthAdjust="spacingAndGlyphs">6720</text>
<rect x="760.5" y="523.5" width="12.0" height="23.5" fill="none" stroke="#333" stroke-width="1"/>
<text transform="translate(769.8,541.5) rotate(-90)" font-size="9.5" textLength="9.6" lengthAdjust="spacingAndGlyphs">B3</text>
<text transform="translate(765.2,520.8) rotate(-90)" font-size="10.5" textLength="21.2" lengthAdjust="spacingAndGlyphs">6703</text>
<rect x="772.5" y="523.5" width="11.5" height="23.5" fill="none" stroke="#333" stroke-width="1"/>
<text transform="translate(781.5,541.5) rotate(-90)" font-size="9.5" textLength="9.6" lengthAdjust="spacingAndGlyphs">B8</text>
<text transform="translate(776.9,520.8) rotate(-90)" font-size="10.5" textLength="21.2" lengthAdjust="spacingAndGlyphs">6719</text>
<rect x="784.0" y="523.5" width="11.5" height="23.5" fill="none" stroke="#333" stroke-width="1"/>
<text transform="translate(793.2,543.9) rotate(-90)" font-size="9.5" textLength="14.4" lengthAdjust="spacingAndGlyphs">B11</text>
<text transform="translate(788.6,520.8) rotate(-90)" font-size="10.5" textLength="21.2" lengthAdjust="spacingAndGlyphs">6718</text>
<rect x="795.5" y="523.5" width="12.0" height="23.5" fill="none" stroke="#333" stroke-width="1"/>
<text transform="translate(804.9,541.5) rotate(-90)" font-size="9.5" textLength="9.6" lengthAdjust="spacingAndGlyphs">B9</text>
<text transform="translate(800.3,520.8) rotate(-90)" font-size="10.5" textLength="21.2" lengthAdjust="spacingAndGlyphs">6726</text>
<rect x="807.5" y="523.5" width="11.5" height="23.5" fill="none" stroke="#333" stroke-width="1"/>
<text transform="translate(816.6,541.5) rotate(-90)" font-size="9.5" textLength="9.6" lengthAdjust="spacingAndGlyphs">B6</text>
<text transform="translate(812.0,520.8) rotate(-90)" font-size="10.5" textLength="21.2" lengthAdjust="spacingAndGlyphs">6708</text>
<rect x="819.0" y="523.5" width="12.0" height="23.5" fill="none" stroke="#333" stroke-width="1"/>
<text transform="translate(828.3,543.9) rotate(-90)" font-size="9.5" textLength="14.4" lengthAdjust="spacingAndGlyphs">B12</text>
<text transform="translate(823.7,520.8) rotate(-90)" font-size="10.5" textLength="21.2" lengthAdjust="spacingAndGlyphs">6704</text>
<rect x="853.5" y="523.5" width="11.5" height="23.5" fill="none" stroke="#333" stroke-width="1"/>
<text transform="translate(862.8,541.5) rotate(-90)" font-size="9.5" textLength="9.6" lengthAdjust="spacingAndGlyphs">C3</text>
<text transform="translate(858.1,520.8) rotate(-90)" font-size="10.5" textLength="21.2" lengthAdjust="spacingAndGlyphs">6773</text>
<rect x="865.0" y="523.5" width="12.0" height="23.5" fill="none" stroke="#333" stroke-width="1"/>
<text transform="translate(874.5,541.5) rotate(-90)" font-size="9.5" textLength="9.6" lengthAdjust="spacingAndGlyphs">C2</text>
<text transform="translate(869.9,520.8) rotate(-90)" font-size="10.5" textLength="21.2" lengthAdjust="spacingAndGlyphs">6774</text>
<rect x="877.0" y="523.5" width="11.5" height="23.5" fill="none" stroke="#333" stroke-width="1"/>
<text transform="translate(886.1,541.5) rotate(-90)" font-size="9.5" textLength="9.6" lengthAdjust="spacingAndGlyphs">C1</text>
<text transform="translate(881.5,520.8) rotate(-90)" font-size="10.5" textLength="21.2" lengthAdjust="spacingAndGlyphs">6772</text>
<rect x="912.0" y="523.5" width="12.0" height="23.5" fill="none" stroke="#333" stroke-width="1"/>
<rect x="924.0" y="523.5" width="11.5" height="23.5" fill="none" stroke="#333" stroke-width="1"/>
<text transform="translate(933.2,541.5) rotate(-90)" font-size="9.5" textLength="9.6" lengthAdjust="spacingAndGlyphs">D2</text>
<text transform="translate(928.6,520.8) rotate(-90)" font-size="10.5" textLength="21.2" lengthAdjust="spacingAndGlyphs">1362</text>
<rect x="935.5" y="523.5" width="12.0" height="23.5" fill="none" stroke="#333" stroke-width="1"/>
<text transform="translate(944.9,541.5) rotate(-90)" font-size="9.5" textLength="9.6" lengthAdjust="spacingAndGlyphs">D1</text>
<text transform="translate(940.2,520.8) rotate(-90)" font-size="10.5" textLength="21.2" lengthAdjust="spacingAndGlyphs">1361</text>
<rect x="970.5" y="523.5" width="12.0" height="23.5" fill="none" stroke="#333" stroke-width="1"/>
<rect x="982.5" y="523.5" width="11.5" height="23.5" fill="none" stroke="#333" stroke-width="1"/>
<text transform="translate(991.6,541.5) rotate(-90)" font-size="9.5" textLength="9.6" lengthAdjust="spacingAndGlyphs">E2</text>
<text transform="translate(987.0,520.8) rotate(-90)" font-size="10.5" textLength="21.2" lengthAdjust="spacingAndGlyphs">6714</text>
<rect x="994.0" y="523.5" width="11.5" height="23.5" fill="none" stroke="#333" stroke-width="1"/>
<text transform="translate(1003.2,541.5) rotate(-90)" font-size="9.5" textLength="9.6" lengthAdjust="spacingAndGlyphs">E1</text>
<text transform="translate(998.6,520.8) rotate(-90)" font-size="10.5" textLength="21.2" lengthAdjust="spacingAndGlyphs">6715</text>
<polyline points="544.5,554.0 544.5,563.0 373.5,563.0 373.5,650.5" fill="none" stroke="#000" stroke-width="1"/>
<polyline points="556.0,554.0 556.0,567.0 400.5,567.0 400.5,673.5" fill="none" stroke="#000" stroke-width="1"/>
<polyline points="567.5,554.0 567.5,571.0 427.5,571.0 427.5,673.5" fill="none" stroke="#000" stroke-width="1"/>
<polyline points="579.5,554.0 579.5,576.5 432.0,576.5 432.0,662.0" fill="none" stroke="#000" stroke-width="1"/>
<polyline points="591.0,554.0 591.0,582.5 459.5,582.5 459.5,662.0" fill="none" stroke="#000" stroke-width="1"/>
<polyline points="603.0,554.0 603.0,588.5 463.0,588.5 463.0,708.5" fill="none" stroke="#000" stroke-width="1"/>
<polyline points="614.5,554.0 614.5,594.0 478.5,594.0 478.5,633.0 427.5,633.0" fill="none" stroke="#000" stroke-width="1"/>
<circle cx="427.7" cy="632.9" r="1.6" fill="#000"/>
<polyline points="626.0,554.0 626.0,600.0 494.0,600.0 494.0,708.5" fill="none" stroke="#000" stroke-width="1"/>
<polyline points="638.0,554.0 638.0,605.5 525.0,605.5 525.0,708.5" fill="none" stroke="#000" stroke-width="1"/>
<polyline points="649.5,554.0 649.5,611.5 556.5,611.5 556.5,697.0" fill="none" stroke="#000" stroke-width="1"/>
<polyline points="661.5,554.0 661.5,617.5 583.5,617.5 583.5,732.0" fill="none" stroke="#000" stroke-width="1"/>
<polyline points="696.5,554.0 696.5,629.5 626.5,629.5" fill="none" stroke="#000" stroke-width="1"/>
<polyline points="708.0,554.0 708.0,634.5 638.5,634.5" fill="none" stroke="#000" stroke-width="1"/>
<polyline points="719.5,554.0 719.5,641.0 649.5,641.0" fill="none" stroke="#000" stroke-width="1"/>
<polyline points="731.5,554.0 731.5,646.5 673.5,646.5" fill="none" stroke="#000" stroke-width="1"/>
<polyline points="743.0,554.0 743.0,652.5 697.0,652.5" fill="none" stroke="#000" stroke-width="1"/>
<polyline points="755.0,554.0 755.0,658.5 720.0,658.5" fill="none" stroke="#000" stroke-width="1"/>
<polyline points="766.5,554.0 766.5,664.0 731.5,664.0" fill="none" stroke="#000" stroke-width="1"/>
<polyline points="778.0,554.0 778.0,669.5 743.5,669.5" fill="none" stroke="#000" stroke-width="1"/>
<polyline points="790.0,554.0 790.0,675.5 766.5,675.5" fill="none" stroke="#000" stroke-width="1"/>
<polyline points="801.5,554.0 801.5,681.0 790.0,681.0" fill="none" stroke="#000" stroke-width="1"/>
<line x1="859.5" y1="553.9" x2="859.5" y2="623.0" stroke="#000" stroke-width="1"/>
<line x1="871.5" y1="553.9" x2="871.5" y2="623.0" stroke="#000" stroke-width="1"/>
<line x1="883.0" y1="553.9" x2="883.0" y2="623.0" stroke="#000" stroke-width="1"/>
<line x1="930.0" y1="553.9" x2="930.0" y2="623.0" stroke="#000" stroke-width="1"/>
<line x1="941.5" y1="553.9" x2="941.5" y2="623.0" stroke="#000" stroke-width="1"/>
<line x1="988.5" y1="553.9" x2="988.5" y2="623.0" stroke="#000" stroke-width="1"/>
<line x1="1000.0" y1="553.9" x2="1000.0" y2="623.0" stroke="#000" stroke-width="1"/>
<rect x="362.0" y="623.0" width="655.0" height="134.0" fill="none" stroke="#000" stroke-width="2"/>
<text x="365.1" y="654.0" font-size="9.5" textLength="5.5" lengthAdjust="spacingAndGlyphs">P</text>
<text x="365.1" y="665.7" font-size="9.5" textLength="5.5" lengthAdjust="spacingAndGlyphs">R</text>
<text x="365.1" y="677.3" font-size="9.5" textLength="5.5" lengthAdjust="spacingAndGlyphs">N</text>
<text x="586.5" y="654.0" font-size="9.5" textLength="5.5" lengthAdjust="spacingAndGlyphs">P</text>
<text x="586.5" y="665.7" font-size="9.5" textLength="5.5" lengthAdjust="spacingAndGlyphs">R</text>
<text x="586.5" y="677.3" font-size="9.5" textLength="5.5" lengthAdjust="spacingAndGlyphs">N</text>
<text x="586.5" y="689.0" font-size="9.5" textLength="5.5" lengthAdjust="spacingAndGlyphs">D</text>
<text x="586.5" y="700.6" font-size="9.5" textLength="5.5" lengthAdjust="spacingAndGlyphs">3</text>
<text x="586.5" y="712.3" font-size="9.5" textLength="5.5" lengthAdjust="spacingAndGlyphs">2</text>
<line x1="373.3" y1="650.5" x2="377.0" y2="650.5" stroke="#000" stroke-width="1"/>
<rect x="377.0" y="648.1" width="20.0" height="4.6" fill="#000"/>
<circle cx="377.0" cy="650.4" r="2.0" fill="#fff" stroke="#000" stroke-width="1"/>
<circle cx="397.0" cy="650.4" r="2.0" fill="#fff" stroke="#000" stroke-width="1"/>
<rect x="404.3" y="648.1" width="20.0" height="4.6" fill="#000"/>
<circle cx="404.3" cy="650.4" r="2.0" fill="#fff" stroke="#000" stroke-width="1"/>
<circle cx="424.3" cy="650.4" r="2.0" fill="#fff" stroke="#000" stroke-width="1"/>
<rect x="436.8" y="648.0" width="16.8" height="4.8" fill="#000"/>
<circle cx="427.9" cy="650.4" r="1.4" fill="#000"/>
<line x1="400.4" y1="673.5" x2="404.3" y2="673.5" stroke="#000" stroke-width="1"/>
<circle cx="404.3" cy="673.7" r="2" fill="#fff" stroke="#000" stroke-width="1"/>
<line x1="427.7" y1="673.5" x2="424.3" y2="673.5" stroke="#000" stroke-width="1"/>
<circle cx="424.3" cy="673.7" r="2" fill="#fff" stroke="#000" stroke-width="1"/>
<line x1="431.8" y1="662.0" x2="435.4" y2="662.0" stroke="#000" stroke-width="1"/>
<circle cx="435.4" cy="662.1" r="2" fill="#fff" stroke="#000" stroke-width="1"/>
<line x1="459.3" y1="662.0" x2="455.3" y2="662.0" stroke="#000" stroke-width="1"/>
<circle cx="455.3" cy="662.1" r="2" fill="#fff" stroke="#000" stroke-width="1"/>
<circle cx="466.9" cy="650.4" r="1.9" fill="#fff" stroke="#000" stroke-width="1"/>
<circle cx="486.8" cy="650.4" r="1.9" fill="#fff" stroke="#000" stroke-width="1"/>
<circle cx="466.9" cy="656.2" r="1.9" fill="#fff" stroke="#000" stroke-width="1"/>
<circle cx="486.8" cy="656.2" r="1.9" fill="#fff" stroke="#000" stroke-width="1"/>
<circle cx="466.9" cy="662.1" r="1.9" fill="#fff" stroke="#000" stroke-width="1"/>
<circle cx="486.8" cy="662.1" r="1.9" fill="#fff" stroke="#000" stroke-width="1"/>
<circle cx="466.9" cy="667.9" r="1.9" fill="#fff" stroke="#000" stroke-width="1"/>
<circle cx="486.8" cy="667.9" r="1.9" fill="#fff" stroke="#000" stroke-width="1"/>
<circle cx="466.9" cy="673.7" r="1.9" fill="#fff" stroke="#000" stroke-width="1"/>
<circle cx="486.8" cy="673.7" r="1.9" fill="#fff" stroke="#000" stroke-width="1"/>
<circle cx="466.9" cy="679.5" r="1.9" fill="#fff" stroke="#000" stroke-width="1"/>
<circle cx="486.8" cy="679.5" r="1.9" fill="#fff" stroke="#000" stroke-width="1"/>
<circle cx="466.9" cy="685.4" r="1.9" fill="#fff" stroke="#000" stroke-width="1"/>
<circle cx="486.8" cy="685.4" r="1.9" fill="#fff" stroke="#000" stroke-width="1"/>
<circle cx="466.9" cy="691.2" r="1.9" fill="#fff" stroke="#000" stroke-width="1"/>
<circle cx="486.8" cy="691.2" r="1.9" fill="#fff" stroke="#000" stroke-width="1"/>
<circle cx="466.9" cy="697.0" r="1.9" fill="#fff" stroke="#000" stroke-width="1"/>
<circle cx="486.8" cy="697.0" r="1.9" fill="#fff" stroke="#000" stroke-width="1"/>
<circle cx="466.9" cy="702.9" r="1.9" fill="#fff" stroke="#000" stroke-width="1"/>
<circle cx="486.8" cy="702.9" r="1.9" fill="#fff" stroke="#000" stroke-width="1"/>
<circle cx="466.9" cy="708.7" r="1.9" fill="#fff" stroke="#000" stroke-width="1"/>
<circle cx="486.8" cy="708.7" r="1.9" fill="#fff" stroke="#000" stroke-width="1"/>
<rect x="466.9" y="648.1" width="19.9" height="4.6" fill="#000"/>
<circle cx="466.9" cy="650.4" r="2.0" fill="#fff" stroke="#000" stroke-width="1"/>
<circle cx="486.8" cy="650.4" r="2.0" fill="#fff" stroke="#000" stroke-width="1"/>
<circle cx="497.7" cy="650.4" r="1.9" fill="#fff" stroke="#000" stroke-width="1"/>
<circle cx="518.1" cy="650.4" r="1.9" fill="#fff" stroke="#000" stroke-width="1"/>
<circle cx="497.7" cy="656.2" r="1.9" fill="#fff" stroke="#000" stroke-width="1"/>
<circle cx="518.1" cy="656.2" r="1.9" fill="#fff" stroke="#000" stroke-width="1"/>
<circle cx="497.7" cy="662.1" r="1.9" fill="#fff" stroke="#000" stroke-width="1"/>
<circle cx="518.1" cy="662.1" r="1.9" fill="#fff" stroke="#000" stroke-width="1"/>
<circle cx="497.7" cy="667.9" r="1.9" fill="#fff" stroke="#000" stroke-width="1"/>
<circle cx="518.1" cy="667.9" r="1.9" fill="#fff" stroke="#000" stroke-width="1"/>
<circle cx="497.7" cy="673.7" r="1.9" fill="#fff" stroke="#000" stroke-width="1"/>
<circle cx="518.1" cy="673.7" r="1.9" fill="#fff" stroke="#000" stroke-width="1"/>
<circle cx="497.7" cy="679.5" r="1.9" fill="#fff" stroke="#000" stroke-width="1"/>
<circle cx="518.1" cy="679.5" r="1.9" fill="#fff" stroke="#000" stroke-width="1"/>
<circle cx="497.7" cy="685.4" r="1.9" fill="#fff" stroke="#000" stroke-width="1"/>
<circle cx="518.1" cy="685.4" r="1.9" fill="#fff" stroke="#000" stroke-width="1"/>
<circle cx="497.7" cy="691.2" r="1.9" fill="#fff" stroke="#000" stroke-width="1"/>
<circle cx="518.1" cy="691.2" r="1.9" fill="#fff" stroke="#000" stroke-width="1"/>
<circle cx="497.7" cy="697.0" r="1.9" fill="#fff" stroke="#000" stroke-width="1"/>
<circle cx="518.1" cy="697.0" r="1.9" fill="#fff" stroke="#000" stroke-width="1"/>
<circle cx="497.7" cy="702.9" r="1.9" fill="#fff" stroke="#000" stroke-width="1"/>
<circle cx="518.1" cy="702.9" r="1.9" fill="#fff" stroke="#000" stroke-width="1"/>
<circle cx="497.7" cy="708.7" r="1.9" fill="#fff" stroke="#000" stroke-width="1"/>
<circle cx="518.1" cy="708.7" r="1.9" fill="#fff" stroke="#000" stroke-width="1"/>
<rect x="497.7" y="648.1" width="20.4" height="4.6" fill="#000"/>
<circle cx="497.7" cy="650.4" r="2.0" fill="#fff" stroke="#000" stroke-width="1"/>
<circle cx="518.1" cy="650.4" r="2.0" fill="#fff" stroke="#000" stroke-width="1"/>
<circle cx="528.8" cy="650.4" r="1.9" fill="#fff" stroke="#000" stroke-width="1"/>
<circle cx="549.1" cy="650.4" r="1.9" fill="#fff" stroke="#000" stroke-width="1"/>
<circle cx="528.8" cy="656.2" r="1.9" fill="#fff" stroke="#000" stroke-width="1"/>
<circle cx="549.1" cy="656.2" r="1.9" fill="#fff" stroke="#000" stroke-width="1"/>
<circle cx="528.8" cy="662.1" r="1.9" fill="#fff" stroke="#000" stroke-width="1"/>
<circle cx="549.1" cy="662.1" r="1.9" fill="#fff" stroke="#000" stroke-width="1"/>
<circle cx="528.8" cy="667.9" r="1.9" fill="#fff" stroke="#000" stroke-width="1"/>
<circle cx="549.1" cy="667.9" r="1.9" fill="#fff" stroke="#000" stroke-width="1"/>
<circle cx="528.8" cy="673.7" r="1.9" fill="#fff" stroke="#000" stroke-width="1"/>
<circle cx="549.1" cy="673.7" r="1.9" fill="#fff" stroke="#000" stroke-width="1"/>
<circle cx="528.8" cy="679.5" r="1.9" fill="#fff" stroke="#000" stroke-width="1"/>
<circle cx="549.1" cy="679.5" r="1.9" fill="#fff" stroke="#000" stroke-width="1"/>
<circle cx="528.8" cy="685.4" r="1.9" fill="#fff" stroke="#000" stroke-width="1"/>
<circle cx="549.1" cy="685.4" r="1.9" fill="#fff" stroke="#000" stroke-width="1"/>
<circle cx="528.8" cy="691.2" r="1.9" fill="#fff" stroke="#000" stroke-width="1"/>
<circle cx="549.1" cy="691.2" r="1.9" fill="#fff" stroke="#000" stroke-width="1"/>
<circle cx="528.8" cy="697.0" r="1.9" fill="#fff" stroke="#000" stroke-width="1"/>
<circle cx="549.1" cy="697.0" r="1.9" fill="#fff" stroke="#000" stroke-width="1"/>
<circle cx="528.8" cy="702.9" r="1.9" fill="#fff" stroke="#000" stroke-width="1"/>
<circle cx="549.1" cy="702.9" r="1.9" fill="#fff" stroke="#000" stroke-width="1"/>
<circle cx="528.8" cy="708.7" r="1.9" fill="#fff" stroke="#000" stroke-width="1"/>
<circle cx="549.1" cy="708.7" r="1.9" fill="#fff" stroke="#000" stroke-width="1"/>
<rect x="528.8" y="648.1" width="20.3" height="4.6" fill="#000"/>
<circle cx="528.8" cy="650.4" r="2.0" fill="#fff" stroke="#000" stroke-width="1"/>
<circle cx="549.1" cy="650.4" r="2.0" fill="#fff" stroke="#000" stroke-width="1"/>
<circle cx="560.0" cy="650.4" r="1.9" fill="#fff" stroke="#000" stroke-width="1"/>
<circle cx="580.2" cy="650.4" r="1.9" fill="#fff" stroke="#000" stroke-width="1"/>
<circle cx="560.0" cy="656.2" r="1.9" fill="#fff" stroke="#000" stroke-width="1"/>
<circle cx="580.2" cy="656.2" r="1.9" fill="#fff" stroke="#000" stroke-width="1"/>
<circle cx="560.0" cy="662.1" r="1.9" fill="#fff" stroke="#000" stroke-width="1"/>
<circle cx="580.2" cy="662.1" r="1.9" fill="#fff" stroke="#000" stroke-width="1"/>
<circle cx="560.0" cy="667.9" r="1.9" fill="#fff" stroke="#000" stroke-width="1"/>
<circle cx="580.2" cy="667.9" r="1.9" fill="#fff" stroke="#000" stroke-width="1"/>
<circle cx="560.0" cy="673.7" r="1.9" fill="#fff" stroke="#000" stroke-width="1"/>
<circle cx="580.2" cy="673.7" r="1.9" fill="#fff" stroke="#000" stroke-width="1"/>
<circle cx="560.0" cy="679.5" r="1.9" fill="#fff" stroke="#000" stroke-width="1"/>
<circle cx="580.2" cy="679.5" r="1.9" fill="#fff" stroke="#000" stroke-width="1"/>
<circle cx="560.0" cy="685.4" r="1.9" fill="#fff" stroke="#000" stroke-width="1"/>
<circle cx="580.2" cy="685.4" r="1.9" fill="#fff" stroke="#000" stroke-width="1"/>
<circle cx="560.0" cy="691.2" r="1.9" fill="#fff" stroke="#000" stroke-width="1"/>
<circle cx="580.2" cy="691.2" r="1.9" fill="#fff" stroke="#000" stroke-width="1"/>
<circle cx="560.0" cy="697.0" r="1.9" fill="#fff" stroke="#000" stroke-width="1"/>
<circle cx="580.2" cy="697.0" r="1.9" fill="#fff" stroke="#000" stroke-width="1"/>
<circle cx="560.0" cy="702.9" r="1.9" fill="#fff" stroke="#000" stroke-width="1"/>
<circle cx="580.2" cy="702.9" r="1.9" fill="#fff" stroke="#000" stroke-width="1"/>
<circle cx="560.0" cy="708.7" r="1.9" fill="#fff" stroke="#000" stroke-width="1"/>
<circle cx="580.2" cy="708.7" r="1.9" fill="#fff" stroke="#000" stroke-width="1"/>
<rect x="560.0" y="648.1" width="20.2" height="4.6" fill="#000"/>
<circle cx="560.0" cy="650.4" r="2.0" fill="#fff" stroke="#000" stroke-width="1"/>
<circle cx="580.2" cy="650.4" r="2.0" fill="#fff" stroke="#000" stroke-width="1"/>
<circle cx="462.9" cy="691.2" r="1.3" fill="#000"/>
<line x1="462.9" y1="691.0" x2="465.0" y2="691.0" stroke="#000" stroke-width="1"/>
<circle cx="462.9" cy="697.0" r="1.3" fill="#000"/>
<line x1="462.9" y1="697.0" x2="465.0" y2="697.0" stroke="#000" stroke-width="1"/>
<circle cx="462.9" cy="702.9" r="1.3" fill="#000"/>
<line x1="462.9" y1="703.0" x2="465.0" y2="703.0" stroke="#000" stroke-width="1"/>
<circle cx="462.9" cy="708.7" r="1.3" fill="#000"/>
<line x1="462.9" y1="708.5" x2="465.0" y2="708.5" stroke="#000" stroke-width="1"/>
<circle cx="494.1" cy="650.4" r="1.3" fill="#000"/>
<line x1="494.1" y1="650.5" x2="495.8" y2="650.5" stroke="#000" stroke-width="1"/>
<circle cx="494.1" cy="656.2" r="1.3" fill="#000"/>
<line x1="494.1" y1="656.0" x2="495.8" y2="656.0" stroke="#000" stroke-width="1"/>
<circle cx="494.1" cy="662.1" r="1.3" fill="#000"/>
<line x1="494.1" y1="662.0" x2="495.8" y2="662.0" stroke="#000" stroke-width="1"/>
<circle cx="494.1" cy="667.9" r="1.3" fill="#000"/>
<line x1="494.1" y1="668.0" x2="495.8" y2="668.0" stroke="#000" stroke-width="1"/>
<circle cx="494.1" cy="708.7" r="1.3" fill="#000"/>
<line x1="494.1" y1="708.5" x2="495.8" y2="708.5" stroke="#000" stroke-width="1"/>
<circle cx="525.0" cy="662.1" r="1.3" fill="#000"/>
<line x1="525.0" y1="662.0" x2="526.9" y2="662.0" stroke="#000" stroke-width="1"/>
<circle cx="525.0" cy="667.9" r="1.3" fill="#000"/>
<line x1="525.0" y1="668.0" x2="526.9" y2="668.0" stroke="#000" stroke-width="1"/>
<circle cx="525.0" cy="673.7" r="1.3" fill="#000"/>
<line x1="525.0" y1="673.5" x2="526.9" y2="673.5" stroke="#000" stroke-width="1"/>
<circle cx="525.0" cy="679.5" r="1.3" fill="#000"/>
<line x1="525.0" y1="679.5" x2="526.9" y2="679.5" stroke="#000" stroke-width="1"/>
<circle cx="525.0" cy="697.0" r="1.3" fill="#000"/>
<line x1="525.0" y1="697.0" x2="526.9" y2="697.0" stroke="#000" stroke-width="1"/>
<circle cx="525.0" cy="702.9" r="1.3" fill="#000"/>
<line x1="525.0" y1="703.0" x2="526.9" y2="703.0" stroke="#000" stroke-width="1"/>
<circle cx="525.0" cy="708.7" r="1.3" fill="#000"/>
<line x1="525.0" y1="708.5" x2="526.9" y2="708.5" stroke="#000" stroke-width="1"/>
<circle cx="556.5" cy="656.2" r="1.3" fill="#000"/>
<line x1="556.5" y1="656.0" x2="558.1" y2="656.0" stroke="#000" stroke-width="1"/>
<circle cx="556.5" cy="662.1" r="1.3" fill="#000"/>
<line x1="556.5" y1="662.0" x2="558.1" y2="662.0" stroke="#000" stroke-width="1"/>
<circle cx="556.5" cy="679.5" r="1.3" fill="#000"/>
<line x1="556.5" y1="679.5" x2="558.1" y2="679.5" stroke="#000" stroke-width="1"/>
<circle cx="556.5" cy="685.4" r="1.3" fill="#000"/>
<line x1="556.5" y1="685.5" x2="558.1" y2="685.5" stroke="#000" stroke-width="1"/>
<circle cx="556.5" cy="691.2" r="1.3" fill="#000"/>
<line x1="556.5" y1="691.0" x2="558.1" y2="691.0" stroke="#000" stroke-width="1"/>
<circle cx="556.5" cy="697.0" r="1.3" fill="#000"/>
<line x1="556.5" y1="697.0" x2="558.1" y2="697.0" stroke="#000" stroke-width="1"/>
<polyline points="490.0,691.0 490.0,732.0 583.5,732.0" fill="none" stroke="#000" stroke-width="1"/>
<line x1="488.7" y1="691.0" x2="490.0" y2="691.0" stroke="#000" stroke-width="1"/>
<circle cx="490.0" cy="697.0" r="1.3" fill="#000"/>
<circle cx="490.0" cy="702.9" r="1.3" fill="#000"/>
<circle cx="490.0" cy="708.7" r="1.3" fill="#000"/>
<line x1="521.5" y1="650.4" x2="521.5" y2="732.2" stroke="#000" stroke-width="1"/>
<circle cx="521.4" cy="732.2" r="1.6" fill="#000"/>
<circle cx="521.4" cy="656.2" r="1.1" fill="#000"/>
<circle cx="521.4" cy="662.1" r="1.1" fill="#000"/>
<circle cx="521.4" cy="667.9" r="1.1" fill="#000"/>
<circle cx="521.4" cy="708.7" r="1.1" fill="#000"/>
<line x1="552.5" y1="662.1" x2="552.5" y2="732.2" stroke="#000" stroke-width="1"/>
<circle cx="552.3" cy="732.2" r="1.6" fill="#000"/>
<circle cx="552.3" cy="667.9" r="1.1" fill="#000"/>
<circle cx="552.3" cy="673.7" r="1.1" fill="#000"/>
<circle cx="552.3" cy="679.5" r="1.1" fill="#000"/>
<circle cx="552.3" cy="697.0" r="1.1" fill="#000"/>
<circle cx="552.3" cy="702.9" r="1.1" fill="#000"/>
<circle cx="552.3" cy="708.7" r="1.1" fill="#000"/>
<circle cx="583.3" cy="656.2" r="1.1" fill="#000"/>
<circle cx="583.3" cy="662.1" r="1.1" fill="#000"/>
<circle cx="583.3" cy="679.5" r="1.1" fill="#000"/>
<circle cx="583.3" cy="691.2" r="1.1" fill="#000"/>
<circle cx="583.3" cy="697.0" r="1.1" fill="#000"/>
<text x="384.2" y="728.5" font-size="10" textLength="5.3" lengthAdjust="spacingAndGlyphs">P</text>
<text x="406.4" y="728.5" font-size="10" textLength="15.9" lengthAdjust="spacingAndGlyphs">P/N</text>
<text x="442.6" y="728.5" font-size="10" textLength="5.3" lengthAdjust="spacingAndGlyphs">R</text>
<text x="471.0" y="728.5" font-size="10" textLength="10.6" lengthAdjust="spacingAndGlyphs">S1</text>
<text x="502.3" y="728.5" font-size="10" textLength="10.6" lengthAdjust="spacingAndGlyphs">S2</text>
<text x="533.3" y="728.5" font-size="10" textLength="10.6" lengthAdjust="spacingAndGlyphs">S3</text>
<text x="564.2" y="728.5" font-size="10" textLength="10.6" lengthAdjust="spacingAndGlyphs">S4</text>
<rect x="365.5" y="730.0" width="24.0" height="23.0" fill="none" stroke="#444" stroke-width="1"/>
<path d="M368.9,734.5 L373.5,738.4 L383.6,738.4 L386.5,740.0 L386.5,745.3 L373.5,745.3 L368.9,748.6 L368.9,734.5 Z" fill="none" stroke="#000" stroke-width="1.7" stroke-linejoin="miter"/>
<line x1="383.3" y1="738.4" x2="386.7" y2="733.8" stroke="#000" stroke-width="1.3"/>
<circle cx="386.7" cy="733.8" r="1.4" fill="#000"/>
<text x="372.0" y="750.9" font-size="5" font-weight="bold" textLength="14.5" lengthAdjust="spacingAndGlyphs" style="stroke-width:0.5px">AUTO</text>
<line x1="603.0" y1="625.0" x2="603.0" y2="740.0" stroke="#333" stroke-width="1" stroke-dasharray="11.5,5.5"/>
<line x1="603.0" y1="740.0" x2="836.4" y2="740.0" stroke="#333" stroke-width="1" stroke-dasharray="11.5,5.5"/>
<line x1="836.5" y1="625.0" x2="836.5" y2="740.0" stroke="#333" stroke-width="1" stroke-dasharray="11.5,5.5"/>
<line x1="842.5" y1="629.0" x2="842.5" y2="740.0" stroke="#333" stroke-width="1" stroke-dasharray="11.5,5.5"/>
<line x1="842.4" y1="740.0" x2="900.3" y2="740.0" stroke="#333" stroke-width="1" stroke-dasharray="11.5,5.5"/>
<line x1="900.5" y1="629.0" x2="900.5" y2="740.0" stroke="#333" stroke-width="1" stroke-dasharray="11.5,5.5"/>
<line x1="906.5" y1="629.0" x2="906.5" y2="740.0" stroke="#333" stroke-width="1" stroke-dasharray="11.5,5.5"/>
<line x1="906.4" y1="740.0" x2="958.5" y2="740.0" stroke="#333" stroke-width="1" stroke-dasharray="11.5,5.5"/>
<line x1="958.5" y1="625.0" x2="958.5" y2="740.0" stroke="#333" stroke-width="1" stroke-dasharray="11.5,5.5"/>
<line x1="962.0" y1="740.0" x2="1016.0" y2="740.0" stroke="#333" stroke-width="1" stroke-dasharray="11.5,5.5"/>
<text x="734.3" y="754.0" font-size="11" textLength="21.0" lengthAdjust="spacingAndGlyphs">1635</text>
<polyline points="626.5,629.5 626.5,691.5" fill="none" stroke="#000" stroke-width="1"/>
<polyline points="626.5,705.5 626.5,716.5 638.5,716.5 638.5,634.5 708.0,634.5 708.0,554.0" fill="none" stroke="#000" stroke-width="1"/>
<path d="M622.4,689.6 L630.3,705.5" fill="none" stroke="#000" stroke-width="1.3"/>
<path d="M624.5,697.5 Q627,693 628,696.5 Q629,700 626,702 Q624.5,704 627.5,704.5" fill="none" stroke="#000" stroke-width="1.1"/>
<path d="M628.6,703.8 L631.6,704.5 L630.5,707.4 Z" fill="#000"/>
<text x="624.5" y="731.0" font-size="9" textLength="5.0" lengthAdjust="spacingAndGlyphs">+</text>
<text x="620.0" y="677.0" font-size="9" textLength="3.0" lengthAdjust="spacingAndGlyphs">-</text>
<text transform="translate(617.0,729.5) rotate(-90)" font-size="8.5" textLength="36.5" lengthAdjust="spacingAndGlyphs">TEMP HUILE</text>
<line x1="649.5" y1="690.0" x2="649.5" y2="694.5" stroke="#000" stroke-width="1"/>
<rect x="647.5" y="694.5" width="10.0" height="3.5" fill="none" stroke="#000" stroke-width="1"/>
<line x1="648.6" y1="698.1" x2="654.6" y2="694.5" stroke="#000" stroke-width="0.8"/>
<line x1="652.5" y1="698.1" x2="652.5" y2="705.0" stroke="#000" stroke-width="1"/>
<path d="M647.5,702.4 L657.6,707.6 L657.6,702.4 L647.5,707.6 Z" fill="none" stroke="#111" stroke-width="1"/>
<circle cx="652.5" cy="705.0" r="1.2" fill="#000"/>
<polyline points="655.5,694.5 655.5,687.5 661.5,687.5 661.5,716.5" fill="none" stroke="#000" stroke-width="1"/>
<text x="646.9" y="732.0" font-size="9" textLength="12.9" lengthAdjust="spacingAndGlyphs">EV6</text>
<line x1="673.5" y1="690.0" x2="673.5" y2="694.5" stroke="#000" stroke-width="1"/>
<rect x="671.0" y="694.5" width="10.5" height="3.5" fill="none" stroke="#000" stroke-width="1"/>
<line x1="672.3" y1="698.1" x2="678.3" y2="694.5" stroke="#000" stroke-width="0.8"/>
<line x1="676.0" y1="698.1" x2="676.0" y2="705.0" stroke="#000" stroke-width="1"/>
<path d="M671.2,702.4 L681.3,707.6 L681.3,702.4 L671.2,707.6 Z" fill="none" stroke="#111" stroke-width="1"/>
<circle cx="676.2" cy="705.0" r="1.2" fill="#000"/>
<polyline points="679.5,694.5 679.5,687.5 685.0,687.5 685.0,716.5" fill="none" stroke="#000" stroke-width="1"/>
<text x="670.5" y="732.0" font-size="9" textLength="12.9" lengthAdjust="spacingAndGlyphs">EV5</text>
<line x1="697.0" y1="690.0" x2="697.0" y2="694.5" stroke="#000" stroke-width="1"/>
<rect x="694.5" y="694.5" width="10.5" height="3.5" fill="none" stroke="#000" stroke-width="1"/>
<line x1="695.8" y1="698.1" x2="701.8" y2="694.5" stroke="#000" stroke-width="0.8"/>
<line x1="699.5" y1="698.1" x2="699.5" y2="705.0" stroke="#000" stroke-width="1"/>
<path d="M694.7,702.4 L704.8,707.6 L704.8,702.4 L694.7,707.6 Z" fill="none" stroke="#111" stroke-width="1"/>
<circle cx="699.7" cy="705.0" r="1.2" fill="#000"/>
<polyline points="703.0,694.5 703.0,687.5 708.5,687.5 708.5,716.5" fill="none" stroke="#000" stroke-width="1"/>
<text x="694.0" y="732.0" font-size="9" textLength="12.9" lengthAdjust="spacingAndGlyphs">EV4</text>
<line x1="720.0" y1="690.0" x2="720.0" y2="694.5" stroke="#000" stroke-width="1"/>
<rect x="718.0" y="694.5" width="10.0" height="3.5" fill="none" stroke="#000" stroke-width="1"/>
<line x1="718.9" y1="698.1" x2="724.9" y2="694.5" stroke="#000" stroke-width="0.8"/>
<line x1="723.0" y1="698.1" x2="723.0" y2="705.0" stroke="#000" stroke-width="1"/>
<path d="M717.8,702.4 L727.9,707.6 L727.9,702.4 L717.8,707.6 Z" fill="none" stroke="#111" stroke-width="1"/>
<circle cx="722.8" cy="705.0" r="1.2" fill="#000"/>
<polyline points="726.0,694.5 726.0,687.5 732.0,687.5 732.0,716.5" fill="none" stroke="#000" stroke-width="1"/>
<text x="717.1" y="732.0" font-size="9" textLength="12.9" lengthAdjust="spacingAndGlyphs">EV3</text>
<line x1="743.5" y1="690.0" x2="743.5" y2="694.5" stroke="#000" stroke-width="1"/>
<rect x="741.5" y="694.5" width="10.0" height="3.5" fill="none" stroke="#000" stroke-width="1"/>
<line x1="742.4" y1="698.1" x2="748.4" y2="694.5" stroke="#000" stroke-width="0.8"/>
<line x1="746.5" y1="698.1" x2="746.5" y2="705.0" stroke="#000" stroke-width="1"/>
<path d="M741.3,702.4 L751.4,707.6 L751.4,702.4 L741.3,707.6 Z" fill="none" stroke="#111" stroke-width="1"/>
<circle cx="746.3" cy="705.0" r="1.2" fill="#000"/>
<polyline points="749.5,694.5 749.5,687.5 755.5,687.5 755.5,716.5" fill="none" stroke="#000" stroke-width="1"/>
<text x="740.6" y="732.0" font-size="9" textLength="12.9" lengthAdjust="spacingAndGlyphs">EV2</text>
<line x1="766.5" y1="690.0" x2="766.5" y2="694.5" stroke="#000" stroke-width="1"/>
<rect x="764.5" y="694.5" width="10.0" height="3.5" fill="none" stroke="#000" stroke-width="1"/>
<line x1="765.7" y1="698.1" x2="771.7" y2="694.5" stroke="#000" stroke-width="0.8"/>
<line x1="769.5" y1="698.1" x2="769.5" y2="705.0" stroke="#000" stroke-width="1"/>
<path d="M764.6,702.4 L774.7,707.6 L774.7,702.4 L764.6,707.6 Z" fill="none" stroke="#111" stroke-width="1"/>
<circle cx="769.6" cy="705.0" r="1.2" fill="#000"/>
<polyline points="772.5,694.5 772.5,687.5 778.5,687.5 778.5,716.5" fill="none" stroke="#000" stroke-width="1"/>
<text x="764.0" y="732.0" font-size="9" textLength="12.9" lengthAdjust="spacingAndGlyphs">EV1</text>
<line x1="790.0" y1="690.0" x2="790.0" y2="694.5" stroke="#000" stroke-width="1"/>
<rect x="788.0" y="694.5" width="10.0" height="3.5" fill="none" stroke="#000" stroke-width="1"/>
<line x1="789.2" y1="698.1" x2="795.2" y2="694.5" stroke="#000" stroke-width="0.8"/>
<line x1="793.0" y1="698.1" x2="793.0" y2="705.0" stroke="#000" stroke-width="1"/>
<path d="M788.1,702.4 L798.2,707.6 L798.2,702.4 L788.1,707.6 Z" fill="none" stroke="#111" stroke-width="1"/>
<circle cx="793.1" cy="705.0" r="1.2" fill="#000"/>
<polyline points="796.0,694.5 796.0,687.5 802.0,687.5 802.0,716.5" fill="none" stroke="#000" stroke-width="1"/>
<text x="787.5" y="732.0" font-size="9" textLength="12.9" lengthAdjust="spacingAndGlyphs">EVM</text>
<line x1="813.5" y1="690.0" x2="813.5" y2="694.5" stroke="#000" stroke-width="1"/>
<rect x="811.0" y="694.5" width="10.5" height="3.5" fill="none" stroke="#000" stroke-width="1"/>
<line x1="812.3" y1="698.1" x2="818.3" y2="694.5" stroke="#000" stroke-width="0.8"/>
<line x1="816.0" y1="698.1" x2="816.0" y2="705.0" stroke="#000" stroke-width="1"/>
<path d="M811.2,702.4 L821.3,707.6 L821.3,702.4 L811.2,707.6 Z" fill="none" stroke="#111" stroke-width="1"/>
<circle cx="816.2" cy="705.0" r="1.2" fill="#000"/>
<polyline points="819.5,694.5 819.5,687.5 825.0,687.5 825.0,716.5" fill="none" stroke="#000" stroke-width="1"/>
<text x="808.4" y="732.0" font-size="9" textLength="17.2" lengthAdjust="spacingAndGlyphs">EVLU</text>
<line x1="649.5" y1="640.9" x2="649.5" y2="694.5" stroke="#000" stroke-width="1"/>
<line x1="673.5" y1="646.6" x2="673.5" y2="694.5" stroke="#000" stroke-width="1"/>
<line x1="697.0" y1="652.5" x2="697.0" y2="694.5" stroke="#000" stroke-width="1"/>
<line x1="720.0" y1="658.3" x2="720.0" y2="694.5" stroke="#000" stroke-width="1"/>
<line x1="743.5" y1="669.6" x2="743.5" y2="694.5" stroke="#000" stroke-width="1"/>
<line x1="766.5" y1="675.3" x2="766.5" y2="694.5" stroke="#000" stroke-width="1"/>
<line x1="790.0" y1="681.1" x2="790.0" y2="694.5" stroke="#000" stroke-width="1"/>
<line x1="731.5" y1="664.0" x2="731.5" y2="716.7" stroke="#000" stroke-width="1"/>
<circle cx="731.4" cy="687.5" r="1.6" fill="#000"/>
<line x1="813.5" y1="553.9" x2="813.5" y2="694.5" stroke="#000" stroke-width="1"/>
<line x1="825.0" y1="553.9" x2="825.0" y2="716.7" stroke="#000" stroke-width="1"/>
<circle cx="824.9" cy="687.5" r="1.6" fill="#000"/>
<line x1="661.9" y1="716.5" x2="778.6" y2="716.5" stroke="#000" stroke-width="1"/>
<circle cx="685.2" cy="716.7" r="1.6" fill="#000"/>
<circle cx="708.7" cy="716.7" r="1.6" fill="#000"/>
<circle cx="731.6" cy="716.7" r="1.6" fill="#000"/>
<circle cx="755.3" cy="716.7" r="1.6" fill="#000"/>
<line x1="802.1" y1="716.5" x2="825.2" y2="716.5" stroke="#000" stroke-width="1"/>
<text x="776.4" y="683.0" font-size="8" textLength="4.5" lengthAdjust="spacingAndGlyphs">+</text>
<text x="829.2" y="683.0" font-size="8" textLength="4.5" lengthAdjust="spacingAndGlyphs">+</text>
<polyline points="859.5,623.0 859.5,697.0" fill="none" stroke="#000" stroke-width="1"/>
<polyline points="859.5,707.0 859.5,710.0 883.0,710.0 883.0,623.0" fill="none" stroke="#000" stroke-width="1"/>
<polyline points="871.5,623.0 871.5,698.5 865.5,698.5" fill="none" stroke="#000" stroke-width="1"/>
<line x1="855.5" y1="692.0" x2="863.0" y2="707.0" stroke="#000" stroke-width="1.2"/>
<polyline points="857.0,699.0 861.0,696.0 860.0,701.0 864.0,698.0" fill="none" stroke="#000" stroke-width="1"/>
<text x="865.1" y="677.0" font-size="8" textLength="3.0" lengthAdjust="spacingAndGlyphs">-</text>
<text x="864.4" y="726.0" font-size="8" textLength="4.5" lengthAdjust="spacingAndGlyphs">+</text>
<text transform="translate(851.5,720.0) rotate(-90)" font-size="8" textLength="41.0" lengthAdjust="spacingAndGlyphs">PRESS LIGNE</text>
<polyline points="930.0,623.0 930.0,697.0" fill="none" stroke="#000" stroke-width="1"/>
<polyline points="930.0,707.0 930.0,710.0 941.5,710.0 941.5,623.0" fill="none" stroke="#000" stroke-width="1"/>
<line x1="925.5" y1="692.0" x2="933.0" y2="707.0" stroke="#000" stroke-width="1.2"/>
<polyline points="927.0,699.0 931.0,696.0 930.0,701.0 934.0,698.0" fill="none" stroke="#000" stroke-width="1"/>
<text x="934.9" y="677.0" font-size="8" textLength="3.0" lengthAdjust="spacingAndGlyphs">-</text>
<text x="934.1" y="726.0" font-size="8" textLength="4.5" lengthAdjust="spacingAndGlyphs">+</text>
<text transform="translate(921.4,734.3) rotate(-90)" font-size="8" textLength="70.0" lengthAdjust="spacingAndGlyphs">CAPT REGIME TURBINE</text>
<text transform="translate(972.1,734.3) rotate(-90)" font-size="8" textLength="71.0" lengthAdjust="spacingAndGlyphs">CAPT VIT SORTIE BVA</text>
<rect x="976.0" y="652.0" width="36.0" height="75.0" fill="none" stroke="#000" stroke-width="2"/>
<line x1="988.5" y1="623.0" x2="988.5" y2="652.0" stroke="#000" stroke-width="1"/>
<line x1="1000.0" y1="623.0" x2="1000.0" y2="652.0" stroke="#000" stroke-width="1"/>
<rect x="986.0" y="662.0" width="16.0" height="12.0" fill="none" stroke="#000" stroke-width="1"/>
<line x1="986.2" y1="662.2" x2="1001.8" y2="673.8" stroke="#000" stroke-width="1"/>
<line x1="1001.8" y1="662.2" x2="986.2" y2="673.8" stroke="#000" stroke-width="1"/>
<line x1="994.0" y1="656.6" x2="994.0" y2="662.2" stroke="#000" stroke-width="1"/>
<line x1="994.0" y1="673.8" x2="994.0" y2="679.4" stroke="#000" stroke-width="1"/>
<line x1="982.1" y1="668.0" x2="986.2" y2="668.0" stroke="#000" stroke-width="1"/>
<line x1="1001.8" y1="668.0" x2="1005.9" y2="668.0" stroke="#000" stroke-width="1"/>
<rect x="990.5" y="683.5" width="6.5" height="6.0" fill="none" stroke="#000" stroke-width="1"/>
<rect x="990.0" y="689.5" width="7.5" height="6.0" fill="#000"/>
<rect x="982.0" y="699.0" width="23.5" height="23.5" fill="none" stroke="#000" stroke-width="1"/>
<path d="M989.3,720.5 Q990.5,712 994,709.5 Q998,706.5 1003.8,705.6 M986,705.6 L993.5,711" fill="none" stroke="#000" stroke-width="2"/>
<path d="M988.5,703 L995,708.3" fill="none" stroke="#000" stroke-width="1.6"/>
<text x="1023.5" y="775.8" font-size="13.5" textLength="81.8" lengthAdjust="spacingAndGlyphs" style="stroke:none">D3ARF97R</text>
</svg></body></html>
